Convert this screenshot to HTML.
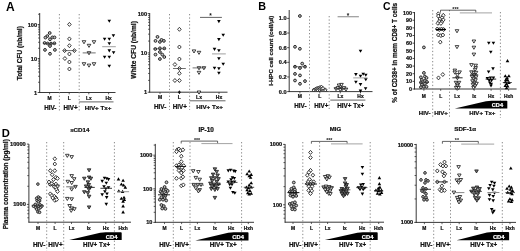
<!DOCTYPE html>
<html><head><meta charset="utf-8"><style>
html,body{margin:0;padding:0;background:#fff;}
body{width:520px;height:251px;overflow:hidden;}
svg{display:block;font-family:"Liberation Sans", sans-serif;filter:grayscale(1);}
</style></head><body>
<svg width="520" height="251" viewBox="0 0 520 251">
<rect width="520" height="251" fill="#fff"/>
<text x="6" y="10.9" font-size="12" font-weight="bold" fill="#000">A</text>
<line x1="39.70" y1="13.00" x2="39.70" y2="92.90" stroke="#222" stroke-width="0.9"/>
<line x1="37.70" y1="92.50" x2="39.70" y2="92.50" stroke="#222" stroke-width="0.8"/>
<text x="37.10" y="94.52" font-size="5.6" font-weight="bold" text-anchor="end" fill="#111" stroke="#111" stroke-width="0.22">1</text>
<line x1="37.70" y1="58.50" x2="39.70" y2="58.50" stroke="#222" stroke-width="0.8"/>
<text x="37.10" y="60.52" font-size="5.6" font-weight="bold" text-anchor="end" fill="#111" stroke="#111" stroke-width="0.22">10</text>
<line x1="37.70" y1="24.50" x2="39.70" y2="24.50" stroke="#222" stroke-width="0.8"/>
<text x="37.10" y="26.52" font-size="5.6" font-weight="bold" text-anchor="end" fill="#111" stroke="#111" stroke-width="0.22">100</text>
<line x1="38.10" y1="82.26" x2="39.70" y2="82.26" stroke="#222" stroke-width="0.75"/>
<line x1="38.10" y1="76.28" x2="39.70" y2="76.28" stroke="#222" stroke-width="0.75"/>
<line x1="38.10" y1="72.03" x2="39.70" y2="72.03" stroke="#222" stroke-width="0.75"/>
<line x1="38.10" y1="68.74" x2="39.70" y2="68.74" stroke="#222" stroke-width="0.75"/>
<line x1="38.10" y1="66.04" x2="39.70" y2="66.04" stroke="#222" stroke-width="0.75"/>
<line x1="38.10" y1="63.77" x2="39.70" y2="63.77" stroke="#222" stroke-width="0.75"/>
<line x1="38.10" y1="61.79" x2="39.70" y2="61.79" stroke="#222" stroke-width="0.75"/>
<line x1="38.10" y1="60.06" x2="39.70" y2="60.06" stroke="#222" stroke-width="0.75"/>
<line x1="38.10" y1="48.26" x2="39.70" y2="48.26" stroke="#222" stroke-width="0.75"/>
<line x1="38.10" y1="42.28" x2="39.70" y2="42.28" stroke="#222" stroke-width="0.75"/>
<line x1="38.10" y1="38.03" x2="39.70" y2="38.03" stroke="#222" stroke-width="0.75"/>
<line x1="38.10" y1="34.74" x2="39.70" y2="34.74" stroke="#222" stroke-width="0.75"/>
<line x1="38.10" y1="32.04" x2="39.70" y2="32.04" stroke="#222" stroke-width="0.75"/>
<line x1="38.10" y1="29.77" x2="39.70" y2="29.77" stroke="#222" stroke-width="0.75"/>
<line x1="38.10" y1="27.79" x2="39.70" y2="27.79" stroke="#222" stroke-width="0.75"/>
<line x1="38.10" y1="26.06" x2="39.70" y2="26.06" stroke="#222" stroke-width="0.75"/>
<line x1="38.10" y1="14.26" x2="39.70" y2="14.26" stroke="#222" stroke-width="0.75"/>
<line x1="39.30" y1="92.50" x2="115.50" y2="92.50" stroke="#222" stroke-width="0.9"/>
<line x1="49.60" y1="92.50" x2="49.60" y2="94.30" stroke="#222" stroke-width="0.7"/>
<line x1="69.20" y1="92.50" x2="69.20" y2="94.30" stroke="#222" stroke-width="0.7"/>
<line x1="88.80" y1="92.50" x2="88.80" y2="94.30" stroke="#222" stroke-width="0.7"/>
<line x1="108.60" y1="92.50" x2="108.60" y2="94.30" stroke="#222" stroke-width="0.7"/>
<text x="49.60" y="100.36" font-size="4.9" font-weight="bold" text-anchor="middle" fill="#111" stroke="#111" stroke-width="0.22">M</text>
<text x="69.20" y="100.36" font-size="4.9" font-weight="bold" text-anchor="middle" fill="#111" stroke="#111" stroke-width="0.22">L</text>
<text x="88.80" y="100.36" font-size="4.9" font-weight="bold" text-anchor="middle" fill="#111" stroke="#111" stroke-width="0.22">Lx</text>
<text x="108.60" y="100.36" font-size="4.9" font-weight="bold" text-anchor="middle" fill="#111" stroke="#111" stroke-width="0.22">Hx</text>
<line x1="59.40" y1="14.00" x2="59.40" y2="110.50" stroke="#8a8a8a" stroke-width="1.0" stroke-dasharray="1.3,2.1"/>
<line x1="79.20" y1="14.00" x2="79.20" y2="110.50" stroke="#8a8a8a" stroke-width="1.0" stroke-dasharray="1.3,2.1"/>
<line x1="79.20" y1="101.90" x2="113.50" y2="101.90" stroke="#222" stroke-width="0.7"/>
<text x="50.30" y="109.67" font-size="6.3" font-weight="bold" text-anchor="middle" fill="#111" stroke="#111" stroke-width="0.22">HIV-</text>
<text x="70.50" y="109.67" font-size="6.3" font-weight="bold" text-anchor="middle" fill="#111" stroke="#111" stroke-width="0.22">HIV+</text>
<text x="98.00" y="109.65" font-size="6.25" font-weight="bold" text-anchor="middle" fill="#111" stroke="#111" stroke-width="0.22">HIV+ Tx+</text>
<text x="19.60" y="55.56" font-size="6.55" font-weight="bold" text-anchor="middle" fill="#111" stroke="#111" stroke-width="0.22" transform="rotate(-90 19.60 53.20)">Total CFU (nb/ml)</text>
<circle cx="49.70" cy="33.00" r="1.40" fill="#bdbdbd" stroke="#222" stroke-width="0.95"/>
<circle cx="47.30" cy="36.10" r="1.40" fill="#bdbdbd" stroke="#222" stroke-width="0.95"/>
<circle cx="45.40" cy="37.60" r="1.40" fill="#bdbdbd" stroke="#222" stroke-width="0.95"/>
<circle cx="52.40" cy="37.40" r="1.40" fill="#bdbdbd" stroke="#222" stroke-width="0.95"/>
<circle cx="54.50" cy="37.40" r="1.40" fill="#bdbdbd" stroke="#222" stroke-width="0.95"/>
<circle cx="50.00" cy="39.30" r="1.40" fill="#bdbdbd" stroke="#222" stroke-width="0.95"/>
<circle cx="44.60" cy="43.00" r="1.40" fill="#bdbdbd" stroke="#222" stroke-width="0.95"/>
<circle cx="47.60" cy="43.50" r="1.40" fill="#bdbdbd" stroke="#222" stroke-width="0.95"/>
<circle cx="51.00" cy="43.60" r="1.40" fill="#bdbdbd" stroke="#222" stroke-width="0.95"/>
<circle cx="54.40" cy="43.30" r="1.40" fill="#bdbdbd" stroke="#222" stroke-width="0.95"/>
<circle cx="50.00" cy="46.00" r="1.40" fill="#bdbdbd" stroke="#222" stroke-width="0.95"/>
<circle cx="45.00" cy="49.90" r="1.40" fill="#bdbdbd" stroke="#222" stroke-width="0.95"/>
<circle cx="54.90" cy="49.90" r="1.40" fill="#bdbdbd" stroke="#222" stroke-width="0.95"/>
<circle cx="50.00" cy="53.80" r="1.40" fill="#bdbdbd" stroke="#222" stroke-width="0.95"/>
<line x1="43.60" y1="43.50" x2="56.00" y2="43.50" stroke="#333" stroke-width="0.7"/>
<polygon points="69.40,22.40 71.20,24.40 69.40,26.40 67.60,24.40" fill="#fff" stroke="#1a1a1a" stroke-width="0.85"/>
<polygon points="69.40,36.90 71.20,38.90 69.40,40.90 67.60,38.90" fill="#fff" stroke="#1a1a1a" stroke-width="0.85"/>
<polygon points="69.40,43.70 71.20,45.70 69.40,47.70 67.60,45.70" fill="#fff" stroke="#1a1a1a" stroke-width="0.85"/>
<polygon points="64.60,48.60 66.40,50.60 64.60,52.60 62.80,50.60" fill="#fff" stroke="#1a1a1a" stroke-width="0.85"/>
<polygon points="74.40,48.60 76.20,50.60 74.40,52.60 72.60,50.60" fill="#fff" stroke="#1a1a1a" stroke-width="0.85"/>
<polygon points="69.40,52.00 71.20,54.00 69.40,56.00 67.60,54.00" fill="#fff" stroke="#1a1a1a" stroke-width="0.85"/>
<polygon points="64.90,56.50 66.70,58.50 64.90,60.50 63.10,58.50" fill="#fff" stroke="#1a1a1a" stroke-width="0.85"/>
<polygon points="69.40,60.00 71.20,62.00 69.40,64.00 67.60,62.00" fill="#fff" stroke="#1a1a1a" stroke-width="0.85"/>
<polygon points="69.40,67.00 71.20,69.00 69.40,71.00 67.60,69.00" fill="#fff" stroke="#1a1a1a" stroke-width="0.85"/>
<line x1="63.20" y1="50.60" x2="75.60" y2="50.60" stroke="#333" stroke-width="0.7"/>
<polygon points="82.20,40.70 85.80,40.70 84.00,43.80" fill="#fff" stroke="#111" stroke-width="0.8"/>
<polygon points="87.20,44.30 90.80,44.30 89.00,47.40" fill="#fff" stroke="#111" stroke-width="0.8"/>
<polygon points="92.20,40.70 95.80,40.70 94.00,43.80" fill="#fff" stroke="#111" stroke-width="0.8"/>
<polygon points="87.20,51.70 90.80,51.70 89.00,54.80" fill="#fff" stroke="#111" stroke-width="0.8"/>
<polygon points="82.20,62.70 85.80,62.70 84.00,65.80" fill="#fff" stroke="#111" stroke-width="0.8"/>
<polygon points="87.20,64.10 90.80,64.10 89.00,67.20" fill="#fff" stroke="#111" stroke-width="0.8"/>
<polygon points="92.20,62.70 95.80,62.70 94.00,65.80" fill="#fff" stroke="#111" stroke-width="0.8"/>
<line x1="82.70" y1="52.90" x2="95.70" y2="52.90" stroke="#333" stroke-width="0.7"/>
<polygon points="107.50,19.75 111.10,19.75 109.30,22.85" fill="#000" stroke="none" stroke-width="0"/>
<polygon points="111.60,34.25 115.20,34.25 113.40,37.35" fill="#000" stroke="none" stroke-width="0"/>
<polygon points="102.80,37.65 106.40,37.65 104.60,40.75" fill="#000" stroke="none" stroke-width="0"/>
<polygon points="107.50,37.65 111.10,37.65 109.30,40.75" fill="#000" stroke="none" stroke-width="0"/>
<polygon points="107.50,42.25 111.10,42.25 109.30,45.35" fill="#000" stroke="none" stroke-width="0"/>
<polygon points="107.50,49.35 111.10,49.35 109.30,52.45" fill="#000" stroke="none" stroke-width="0"/>
<polygon points="111.80,51.15 115.40,51.15 113.60,54.25" fill="#000" stroke="none" stroke-width="0"/>
<polygon points="102.80,55.75 106.40,55.75 104.60,58.85" fill="#000" stroke="none" stroke-width="0"/>
<polygon points="107.50,55.75 111.10,55.75 109.30,58.85" fill="#000" stroke="none" stroke-width="0"/>
<polygon points="107.50,64.65 111.10,64.65 109.30,67.75" fill="#000" stroke="none" stroke-width="0"/>
<line x1="102.20" y1="46.70" x2="115.80" y2="46.70" stroke="#777" stroke-width="0.7"/>
<line x1="149.70" y1="13.00" x2="149.70" y2="92.60" stroke="#222" stroke-width="0.9"/>
<line x1="147.70" y1="92.20" x2="149.70" y2="92.20" stroke="#222" stroke-width="0.8"/>
<text x="147.10" y="94.22" font-size="5.6" font-weight="bold" text-anchor="end" fill="#111" stroke="#111" stroke-width="0.22">1</text>
<line x1="147.70" y1="52.90" x2="149.70" y2="52.90" stroke="#222" stroke-width="0.8"/>
<text x="147.10" y="54.92" font-size="5.6" font-weight="bold" text-anchor="end" fill="#111" stroke="#111" stroke-width="0.22">10</text>
<line x1="147.70" y1="13.60" x2="149.70" y2="13.60" stroke="#222" stroke-width="0.8"/>
<text x="147.10" y="15.62" font-size="5.6" font-weight="bold" text-anchor="end" fill="#111" stroke="#111" stroke-width="0.22">100</text>
<line x1="148.10" y1="80.37" x2="149.70" y2="80.37" stroke="#222" stroke-width="0.75"/>
<line x1="148.10" y1="73.45" x2="149.70" y2="73.45" stroke="#222" stroke-width="0.75"/>
<line x1="148.10" y1="68.54" x2="149.70" y2="68.54" stroke="#222" stroke-width="0.75"/>
<line x1="148.10" y1="64.73" x2="149.70" y2="64.73" stroke="#222" stroke-width="0.75"/>
<line x1="148.10" y1="61.62" x2="149.70" y2="61.62" stroke="#222" stroke-width="0.75"/>
<line x1="148.10" y1="58.99" x2="149.70" y2="58.99" stroke="#222" stroke-width="0.75"/>
<line x1="148.10" y1="56.71" x2="149.70" y2="56.71" stroke="#222" stroke-width="0.75"/>
<line x1="148.10" y1="54.70" x2="149.70" y2="54.70" stroke="#222" stroke-width="0.75"/>
<line x1="148.10" y1="41.07" x2="149.70" y2="41.07" stroke="#222" stroke-width="0.75"/>
<line x1="148.10" y1="34.15" x2="149.70" y2="34.15" stroke="#222" stroke-width="0.75"/>
<line x1="148.10" y1="29.24" x2="149.70" y2="29.24" stroke="#222" stroke-width="0.75"/>
<line x1="148.10" y1="25.43" x2="149.70" y2="25.43" stroke="#222" stroke-width="0.75"/>
<line x1="148.10" y1="22.32" x2="149.70" y2="22.32" stroke="#222" stroke-width="0.75"/>
<line x1="148.10" y1="19.69" x2="149.70" y2="19.69" stroke="#222" stroke-width="0.75"/>
<line x1="148.10" y1="17.41" x2="149.70" y2="17.41" stroke="#222" stroke-width="0.75"/>
<line x1="148.10" y1="15.40" x2="149.70" y2="15.40" stroke="#222" stroke-width="0.75"/>
<line x1="149.30" y1="92.20" x2="227.50" y2="92.20" stroke="#222" stroke-width="0.9"/>
<line x1="160.00" y1="92.20" x2="160.00" y2="94.00" stroke="#222" stroke-width="0.7"/>
<line x1="179.40" y1="92.20" x2="179.40" y2="94.00" stroke="#222" stroke-width="0.7"/>
<line x1="199.00" y1="92.20" x2="199.00" y2="94.00" stroke="#222" stroke-width="0.7"/>
<line x1="219.00" y1="92.20" x2="219.00" y2="94.00" stroke="#222" stroke-width="0.7"/>
<text x="160.00" y="98.50" font-size="5.0" font-weight="bold" text-anchor="middle" fill="#111" stroke="#111" stroke-width="0.22">M</text>
<text x="179.40" y="98.50" font-size="5.0" font-weight="bold" text-anchor="middle" fill="#111" stroke="#111" stroke-width="0.22">L</text>
<text x="199.00" y="98.50" font-size="5.0" font-weight="bold" text-anchor="middle" fill="#111" stroke="#111" stroke-width="0.22">Lx</text>
<text x="219.00" y="98.50" font-size="5.0" font-weight="bold" text-anchor="middle" fill="#111" stroke="#111" stroke-width="0.22">Hx</text>
<line x1="169.50" y1="14.00" x2="169.50" y2="110.00" stroke="#8a8a8a" stroke-width="1.0" stroke-dasharray="1.3,2.1"/>
<line x1="189.60" y1="14.00" x2="189.60" y2="110.00" stroke="#8a8a8a" stroke-width="1.0" stroke-dasharray="1.3,2.1"/>
<line x1="189.60" y1="100.80" x2="225.50" y2="100.80" stroke="#222" stroke-width="0.7"/>
<text x="160.20" y="108.57" font-size="6.3" font-weight="bold" text-anchor="middle" fill="#111" stroke="#111" stroke-width="0.22">HIV-</text>
<text x="179.80" y="108.57" font-size="6.3" font-weight="bold" text-anchor="middle" fill="#111" stroke="#111" stroke-width="0.22">HIV+</text>
<text x="209.50" y="108.55" font-size="6.25" font-weight="bold" text-anchor="middle" fill="#111" stroke="#111" stroke-width="0.22">HIV+ Tx+</text>
<text x="133.30" y="52.24" font-size="6.65" font-weight="bold" text-anchor="middle" fill="#111" stroke="#111" stroke-width="0.22" transform="rotate(-90 133.30 49.85)">White CFU (nb/ml)</text>
<line x1="200.00" y1="17.40" x2="221.90" y2="17.40" stroke="#555" stroke-width="0.9"/>
<text x="210.60" y="18.34" font-size="6.5" font-weight="bold" text-anchor="middle" fill="#111">*</text>
<circle cx="157.50" cy="36.90" r="1.40" fill="#bdbdbd" stroke="#222" stroke-width="0.95"/>
<circle cx="155.50" cy="40.90" r="1.40" fill="#bdbdbd" stroke="#222" stroke-width="0.95"/>
<circle cx="159.90" cy="41.90" r="1.40" fill="#bdbdbd" stroke="#222" stroke-width="0.95"/>
<circle cx="161.50" cy="39.90" r="1.40" fill="#bdbdbd" stroke="#222" stroke-width="0.95"/>
<circle cx="163.90" cy="40.90" r="1.40" fill="#bdbdbd" stroke="#222" stroke-width="0.95"/>
<circle cx="155.30" cy="49.00" r="1.40" fill="#bdbdbd" stroke="#222" stroke-width="0.95"/>
<circle cx="159.90" cy="48.30" r="1.40" fill="#bdbdbd" stroke="#222" stroke-width="0.95"/>
<circle cx="164.30" cy="48.40" r="1.40" fill="#bdbdbd" stroke="#222" stroke-width="0.95"/>
<circle cx="159.90" cy="52.00" r="1.40" fill="#bdbdbd" stroke="#222" stroke-width="0.95"/>
<circle cx="155.50" cy="54.60" r="1.40" fill="#bdbdbd" stroke="#222" stroke-width="0.95"/>
<circle cx="162.30" cy="54.60" r="1.40" fill="#bdbdbd" stroke="#222" stroke-width="0.95"/>
<circle cx="164.30" cy="57.00" r="1.40" fill="#bdbdbd" stroke="#222" stroke-width="0.95"/>
<circle cx="159.90" cy="59.00" r="1.40" fill="#bdbdbd" stroke="#222" stroke-width="0.95"/>
<line x1="153.60" y1="48.80" x2="166.00" y2="48.80" stroke="#333" stroke-width="0.7"/>
<polygon points="179.40,27.30 181.20,29.30 179.40,31.30 177.60,29.30" fill="#fff" stroke="#1a1a1a" stroke-width="0.85"/>
<polygon points="179.40,45.00 181.20,47.00 179.40,49.00 177.60,47.00" fill="#fff" stroke="#1a1a1a" stroke-width="0.85"/>
<polygon points="179.40,57.00 181.20,59.00 179.40,61.00 177.60,59.00" fill="#fff" stroke="#1a1a1a" stroke-width="0.85"/>
<polygon points="174.90,62.50 176.70,64.50 174.90,66.50 173.10,64.50" fill="#fff" stroke="#1a1a1a" stroke-width="0.85"/>
<polygon points="179.40,66.50 181.20,68.50 179.40,70.50 177.60,68.50" fill="#fff" stroke="#1a1a1a" stroke-width="0.85"/>
<polygon points="179.40,71.30 181.20,73.30 179.40,75.30 177.60,73.30" fill="#fff" stroke="#1a1a1a" stroke-width="0.85"/>
<polygon points="174.90,78.50 176.70,80.50 174.90,82.50 173.10,80.50" fill="#fff" stroke="#1a1a1a" stroke-width="0.85"/>
<polygon points="179.40,78.50 181.20,80.50 179.40,82.50 177.60,80.50" fill="#fff" stroke="#1a1a1a" stroke-width="0.85"/>
<polygon points="179.40,90.30 180.90,92.20 179.40,94.10 177.90,92.20" fill="#111" stroke="none" stroke-width="0"/>
<line x1="173.00" y1="68.50" x2="185.80" y2="68.50" stroke="#333" stroke-width="0.7"/>
<polygon points="192.20,49.90 195.80,49.90 194.00,53.00" fill="#fff" stroke="#111" stroke-width="0.8"/>
<polygon points="197.20,51.30 200.80,51.30 199.00,54.40" fill="#fff" stroke="#111" stroke-width="0.8"/>
<polygon points="197.20,66.70 200.80,66.70 199.00,69.80" fill="#fff" stroke="#111" stroke-width="0.8"/>
<polygon points="202.10,66.70 205.70,66.70 203.90,69.80" fill="#fff" stroke="#111" stroke-width="0.8"/>
<polygon points="197.20,71.30 200.80,71.30 199.00,74.40" fill="#fff" stroke="#111" stroke-width="0.8"/>
<polygon points="197.20,91.00 200.80,91.00 199.00,94.10" fill="#fff" stroke="#111" stroke-width="0.8"/>
<line x1="192.60" y1="67.90" x2="205.80" y2="67.90" stroke="#333" stroke-width="0.7"/>
<polygon points="217.10,20.05 220.70,20.05 218.90,23.15" fill="#000" stroke="none" stroke-width="0"/>
<polygon points="221.40,33.65 225.00,33.65 223.20,36.75" fill="#000" stroke="none" stroke-width="0"/>
<polygon points="217.10,38.05 220.70,38.05 218.90,41.15" fill="#000" stroke="none" stroke-width="0"/>
<polygon points="212.70,47.85 216.30,47.85 214.50,50.95" fill="#000" stroke="none" stroke-width="0"/>
<polygon points="217.10,49.15 220.70,49.15 218.90,52.25" fill="#000" stroke="none" stroke-width="0"/>
<polygon points="217.10,57.25 220.70,57.25 218.90,60.35" fill="#000" stroke="none" stroke-width="0"/>
<polygon points="221.40,62.65 225.00,62.65 223.20,65.75" fill="#000" stroke="none" stroke-width="0"/>
<polygon points="212.70,66.65 216.30,66.65 214.50,69.75" fill="#000" stroke="none" stroke-width="0"/>
<polygon points="217.10,67.25 220.70,67.25 218.90,70.35" fill="#000" stroke="none" stroke-width="0"/>
<polygon points="217.10,71.65 220.70,71.65 218.90,74.75" fill="#000" stroke="none" stroke-width="0"/>
<line x1="212.00" y1="53.90" x2="225.80" y2="53.90" stroke="#777" stroke-width="0.7"/>
<text x="258.3" y="10.0" font-size="10.8" font-weight="bold" fill="#000">B</text>
<line x1="289.20" y1="10.00" x2="289.20" y2="92.00" stroke="#222" stroke-width="0.9"/>
<line x1="287.20" y1="91.60" x2="289.20" y2="91.60" stroke="#222" stroke-width="0.8"/>
<text x="286.60" y="93.62" font-size="5.6" font-weight="bold" text-anchor="end" fill="#111" stroke="#111" stroke-width="0.22">0.0</text>
<line x1="287.20" y1="76.96" x2="289.20" y2="76.96" stroke="#222" stroke-width="0.8"/>
<text x="286.60" y="78.98" font-size="5.6" font-weight="bold" text-anchor="end" fill="#111" stroke="#111" stroke-width="0.22">0.2</text>
<line x1="287.20" y1="62.32" x2="289.20" y2="62.32" stroke="#222" stroke-width="0.8"/>
<text x="286.60" y="64.34" font-size="5.6" font-weight="bold" text-anchor="end" fill="#111" stroke="#111" stroke-width="0.22">0.4</text>
<line x1="287.20" y1="47.68" x2="289.20" y2="47.68" stroke="#222" stroke-width="0.8"/>
<text x="286.60" y="49.70" font-size="5.6" font-weight="bold" text-anchor="end" fill="#111" stroke="#111" stroke-width="0.22">0.6</text>
<line x1="287.20" y1="33.04" x2="289.20" y2="33.04" stroke="#222" stroke-width="0.8"/>
<text x="286.60" y="35.06" font-size="5.6" font-weight="bold" text-anchor="end" fill="#111" stroke="#111" stroke-width="0.22">0.8</text>
<line x1="287.20" y1="18.40" x2="289.20" y2="18.40" stroke="#222" stroke-width="0.8"/>
<text x="286.60" y="20.42" font-size="5.6" font-weight="bold" text-anchor="end" fill="#111" stroke="#111" stroke-width="0.22">1.0</text>
<line x1="288.80" y1="91.60" x2="372.50" y2="91.60" stroke="#222" stroke-width="0.9"/>
<line x1="299.90" y1="91.60" x2="299.90" y2="93.40" stroke="#222" stroke-width="0.7"/>
<line x1="319.80" y1="91.60" x2="319.80" y2="93.40" stroke="#222" stroke-width="0.7"/>
<line x1="340.30" y1="91.60" x2="340.30" y2="93.40" stroke="#222" stroke-width="0.7"/>
<line x1="360.50" y1="91.60" x2="360.50" y2="93.40" stroke="#222" stroke-width="0.7"/>
<text x="299.90" y="97.90" font-size="5.0" font-weight="bold" text-anchor="middle" fill="#111" stroke="#111" stroke-width="0.22">M</text>
<text x="319.80" y="97.90" font-size="5.0" font-weight="bold" text-anchor="middle" fill="#111" stroke="#111" stroke-width="0.22">L</text>
<text x="340.30" y="97.90" font-size="5.0" font-weight="bold" text-anchor="middle" fill="#111" stroke="#111" stroke-width="0.22">Lx</text>
<text x="360.50" y="97.90" font-size="5.0" font-weight="bold" text-anchor="middle" fill="#111" stroke="#111" stroke-width="0.22">Hx</text>
<line x1="309.50" y1="16.00" x2="309.50" y2="109.00" stroke="#8a8a8a" stroke-width="1.0" stroke-dasharray="1.3,2.1"/>
<line x1="329.20" y1="16.00" x2="329.20" y2="109.00" stroke="#8a8a8a" stroke-width="1.0" stroke-dasharray="1.3,2.1"/>
<line x1="330.30" y1="100.10" x2="365.40" y2="100.10" stroke="#222" stroke-width="0.7"/>
<text x="300.40" y="107.97" font-size="6.3" font-weight="bold" text-anchor="middle" fill="#111" stroke="#111" stroke-width="0.22">HIV-</text>
<text x="321.30" y="107.97" font-size="6.3" font-weight="bold" text-anchor="middle" fill="#111" stroke="#111" stroke-width="0.22">HIV+</text>
<text x="350.80" y="107.97" font-size="6.3" font-weight="bold" text-anchor="middle" fill="#111" stroke="#111" stroke-width="0.22">HIV+ Tx+</text>
<text x="270.80" y="53.01" font-size="6.15" font-weight="bold" text-anchor="middle" fill="#111" stroke="#111" stroke-width="0.22" transform="rotate(-90 270.80 50.80)">I-HPC cell count (cell/µl)</text>
<line x1="337.60" y1="16.75" x2="358.90" y2="16.75" stroke="#777" stroke-width="0.9"/>
<text x="348.10" y="17.74" font-size="6.5" font-weight="bold" text-anchor="middle" fill="#111">*</text>
<circle cx="299.90" cy="16.00" r="1.40" fill="#bdbdbd" stroke="#222" stroke-width="0.95"/>
<circle cx="295.00" cy="46.80" r="1.40" fill="#bdbdbd" stroke="#222" stroke-width="0.95"/>
<circle cx="299.90" cy="48.80" r="1.40" fill="#bdbdbd" stroke="#222" stroke-width="0.95"/>
<circle cx="295.00" cy="66.70" r="1.40" fill="#bdbdbd" stroke="#222" stroke-width="0.95"/>
<circle cx="300.00" cy="68.00" r="1.40" fill="#bdbdbd" stroke="#222" stroke-width="0.95"/>
<circle cx="302.20" cy="63.60" r="1.40" fill="#bdbdbd" stroke="#222" stroke-width="0.95"/>
<circle cx="305.00" cy="66.70" r="1.40" fill="#bdbdbd" stroke="#222" stroke-width="0.95"/>
<circle cx="295.00" cy="73.90" r="1.40" fill="#bdbdbd" stroke="#222" stroke-width="0.95"/>
<circle cx="300.00" cy="75.40" r="1.40" fill="#bdbdbd" stroke="#222" stroke-width="0.95"/>
<circle cx="295.00" cy="80.50" r="1.40" fill="#bdbdbd" stroke="#222" stroke-width="0.95"/>
<circle cx="305.00" cy="81.10" r="1.40" fill="#bdbdbd" stroke="#222" stroke-width="0.95"/>
<circle cx="300.00" cy="83.80" r="1.40" fill="#bdbdbd" stroke="#222" stroke-width="0.95"/>
<line x1="293.00" y1="66.70" x2="306.20" y2="66.70" stroke="#333" stroke-width="0.7"/>
<polygon points="313.80,88.00 315.60,90.00 313.80,92.00 312.00,90.00" fill="#fff" stroke="#1a1a1a" stroke-width="0.85"/>
<polygon points="315.50,87.20 317.30,89.20 315.50,91.20 313.70,89.20" fill="#fff" stroke="#1a1a1a" stroke-width="0.85"/>
<polygon points="317.00,86.50 318.80,88.50 317.00,90.50 315.20,88.50" fill="#fff" stroke="#1a1a1a" stroke-width="0.85"/>
<polygon points="318.50,86.00 320.30,88.00 318.50,90.00 316.70,88.00" fill="#fff" stroke="#1a1a1a" stroke-width="0.85"/>
<polygon points="320.00,85.50 321.80,87.50 320.00,89.50 318.20,87.50" fill="#fff" stroke="#1a1a1a" stroke-width="0.85"/>
<polygon points="321.50,85.20 323.30,87.20 321.50,89.20 319.70,87.20" fill="#fff" stroke="#1a1a1a" stroke-width="0.85"/>
<polygon points="317.50,87.80 319.30,89.80 317.50,91.80 315.70,89.80" fill="#fff" stroke="#1a1a1a" stroke-width="0.85"/>
<polygon points="319.50,87.50 321.30,89.50 319.50,91.50 317.70,89.50" fill="#fff" stroke="#1a1a1a" stroke-width="0.85"/>
<polygon points="321.50,87.00 323.30,89.00 321.50,91.00 319.70,89.00" fill="#fff" stroke="#1a1a1a" stroke-width="0.85"/>
<polygon points="323.00,86.50 324.80,88.50 323.00,90.50 321.20,88.50" fill="#fff" stroke="#1a1a1a" stroke-width="0.85"/>
<polygon points="325.30,87.90 327.10,89.90 325.30,91.90 323.50,89.90" fill="#fff" stroke="#1a1a1a" stroke-width="0.85"/>
<line x1="313.40" y1="89.30" x2="326.20" y2="89.30" stroke="#333" stroke-width="0.7"/>
<polygon points="334.20,87.60 337.80,87.60 336.00,90.70" fill="#fff" stroke="#111" stroke-width="0.8"/>
<polygon points="336.20,86.60 339.80,86.60 338.00,89.70" fill="#fff" stroke="#111" stroke-width="0.8"/>
<polygon points="338.20,85.70 341.80,85.70 340.00,88.80" fill="#fff" stroke="#111" stroke-width="0.8"/>
<polygon points="340.20,87.60 343.80,87.60 342.00,90.70" fill="#fff" stroke="#111" stroke-width="0.8"/>
<polygon points="342.20,86.60 345.80,86.60 344.00,89.70" fill="#fff" stroke="#111" stroke-width="0.8"/>
<polygon points="344.20,88.10 347.80,88.10 346.00,91.20" fill="#fff" stroke="#111" stroke-width="0.8"/>
<polygon points="337.20,84.00 340.80,84.00 339.00,87.10" fill="#fff" stroke="#111" stroke-width="0.8"/>
<polygon points="339.70,83.40 343.30,83.40 341.50,86.50" fill="#fff" stroke="#111" stroke-width="0.8"/>
<polygon points="338.50,88.40 342.10,88.40 340.30,91.50" fill="#fff" stroke="#111" stroke-width="0.8"/>
<line x1="333.90" y1="88.60" x2="346.70" y2="88.60" stroke="#333" stroke-width="0.7"/>
<polygon points="358.70,49.75 362.30,49.75 360.50,52.85" fill="#000" stroke="none" stroke-width="0"/>
<polygon points="354.10,73.05 357.70,73.05 355.90,76.15" fill="#000" stroke="none" stroke-width="0"/>
<polygon points="358.70,74.65 362.30,74.65 360.50,77.75" fill="#000" stroke="none" stroke-width="0"/>
<polygon points="361.40,72.65 365.00,72.65 363.20,75.75" fill="#000" stroke="none" stroke-width="0"/>
<polygon points="364.00,73.65 367.60,73.65 365.80,76.75" fill="#000" stroke="none" stroke-width="0"/>
<polygon points="354.10,80.75 357.70,80.75 355.90,83.85" fill="#000" stroke="none" stroke-width="0"/>
<polygon points="358.70,83.05 362.30,83.05 360.50,86.15" fill="#000" stroke="none" stroke-width="0"/>
<polygon points="364.00,78.25 367.60,78.25 365.80,81.35" fill="#000" stroke="none" stroke-width="0"/>
<polygon points="363.80,87.25 367.40,87.25 365.60,90.35" fill="#000" stroke="none" stroke-width="0"/>
<polygon points="358.70,89.55 362.30,89.55 360.50,92.65" fill="#000" stroke="none" stroke-width="0"/>
<line x1="353.20" y1="77.90" x2="367.60" y2="77.90" stroke="#777" stroke-width="0.7"/>
<text x="383.0" y="10.3" font-size="10.4" font-weight="bold" fill="#000">C</text>
<line x1="414.50" y1="12.00" x2="414.50" y2="89.40" stroke="#222" stroke-width="0.9"/>
<line x1="412.50" y1="89.00" x2="414.50" y2="89.00" stroke="#222" stroke-width="0.8"/>
<text x="411.90" y="90.94" font-size="5.4" font-weight="bold" text-anchor="end" fill="#111" stroke="#111" stroke-width="0.22">0</text>
<line x1="412.50" y1="81.36" x2="414.50" y2="81.36" stroke="#222" stroke-width="0.8"/>
<text x="411.90" y="83.30" font-size="5.4" font-weight="bold" text-anchor="end" fill="#111" stroke="#111" stroke-width="0.22">10</text>
<line x1="412.50" y1="73.72" x2="414.50" y2="73.72" stroke="#222" stroke-width="0.8"/>
<text x="411.90" y="75.66" font-size="5.4" font-weight="bold" text-anchor="end" fill="#111" stroke="#111" stroke-width="0.22">20</text>
<line x1="412.50" y1="66.08" x2="414.50" y2="66.08" stroke="#222" stroke-width="0.8"/>
<text x="411.90" y="68.02" font-size="5.4" font-weight="bold" text-anchor="end" fill="#111" stroke="#111" stroke-width="0.22">30</text>
<line x1="412.50" y1="58.44" x2="414.50" y2="58.44" stroke="#222" stroke-width="0.8"/>
<text x="411.90" y="60.38" font-size="5.4" font-weight="bold" text-anchor="end" fill="#111" stroke="#111" stroke-width="0.22">40</text>
<line x1="412.50" y1="50.80" x2="414.50" y2="50.80" stroke="#222" stroke-width="0.8"/>
<text x="411.90" y="52.74" font-size="5.4" font-weight="bold" text-anchor="end" fill="#111" stroke="#111" stroke-width="0.22">50</text>
<line x1="412.50" y1="43.16" x2="414.50" y2="43.16" stroke="#222" stroke-width="0.8"/>
<text x="411.90" y="45.10" font-size="5.4" font-weight="bold" text-anchor="end" fill="#111" stroke="#111" stroke-width="0.22">60</text>
<line x1="412.50" y1="35.52" x2="414.50" y2="35.52" stroke="#222" stroke-width="0.8"/>
<text x="411.90" y="37.46" font-size="5.4" font-weight="bold" text-anchor="end" fill="#111" stroke="#111" stroke-width="0.22">70</text>
<line x1="412.50" y1="27.88" x2="414.50" y2="27.88" stroke="#222" stroke-width="0.8"/>
<text x="411.90" y="29.82" font-size="5.4" font-weight="bold" text-anchor="end" fill="#111" stroke="#111" stroke-width="0.22">80</text>
<line x1="412.50" y1="20.24" x2="414.50" y2="20.24" stroke="#222" stroke-width="0.8"/>
<text x="411.90" y="22.18" font-size="5.4" font-weight="bold" text-anchor="end" fill="#111" stroke="#111" stroke-width="0.22">90</text>
<line x1="412.50" y1="12.60" x2="414.50" y2="12.60" stroke="#222" stroke-width="0.8"/>
<text x="411.90" y="14.54" font-size="5.4" font-weight="bold" text-anchor="end" fill="#111" stroke="#111" stroke-width="0.22">100</text>
<line x1="414.10" y1="89.00" x2="516.60" y2="89.00" stroke="#222" stroke-width="0.9"/>
<line x1="423.90" y1="89.00" x2="423.90" y2="90.80" stroke="#222" stroke-width="0.7"/>
<line x1="440.70" y1="89.00" x2="440.70" y2="90.80" stroke="#222" stroke-width="0.7"/>
<line x1="457.20" y1="89.00" x2="457.20" y2="90.80" stroke="#222" stroke-width="0.7"/>
<line x1="474.20" y1="89.00" x2="474.20" y2="90.80" stroke="#222" stroke-width="0.7"/>
<line x1="491.10" y1="89.00" x2="491.10" y2="90.80" stroke="#222" stroke-width="0.7"/>
<line x1="508.60" y1="89.00" x2="508.60" y2="90.80" stroke="#222" stroke-width="0.7"/>
<text x="423.90" y="98.06" font-size="4.9" font-weight="bold" text-anchor="middle" fill="#111" stroke="#111" stroke-width="0.22">M</text>
<text x="440.70" y="98.06" font-size="4.9" font-weight="bold" text-anchor="middle" fill="#111" stroke="#111" stroke-width="0.22">L</text>
<text x="457.20" y="98.06" font-size="4.9" font-weight="bold" text-anchor="middle" fill="#111" stroke="#111" stroke-width="0.22">Lx</text>
<text x="474.20" y="98.06" font-size="4.9" font-weight="bold" text-anchor="middle" fill="#111" stroke="#111" stroke-width="0.22">Ix</text>
<text x="491.10" y="98.06" font-size="4.9" font-weight="bold" text-anchor="middle" fill="#111" stroke="#111" stroke-width="0.22">Hx</text>
<text x="508.60" y="98.06" font-size="4.9" font-weight="bold" text-anchor="middle" fill="#111" stroke="#111" stroke-width="0.22">Hxh</text>
<line x1="432.70" y1="10.00" x2="432.70" y2="117.00" stroke="#8a8a8a" stroke-width="1.0" stroke-dasharray="1.3,2.1"/>
<line x1="449.50" y1="10.00" x2="449.50" y2="117.00" stroke="#8a8a8a" stroke-width="1.0" stroke-dasharray="1.3,2.1"/>
<line x1="500.40" y1="12.00" x2="500.40" y2="118.00" stroke="#8a8a8a" stroke-width="1.0" stroke-dasharray="1.3,2.1"/>
<text x="424.70" y="115.20" font-size="6.1" font-weight="bold" text-anchor="middle" fill="#111" stroke="#111" stroke-width="0.22">HIV-</text>
<text x="441.00" y="115.20" font-size="6.1" font-weight="bold" text-anchor="middle" fill="#111" stroke="#111" stroke-width="0.22">HIV+</text>
<text x="482.30" y="115.20" font-size="6.1" font-weight="bold" text-anchor="middle" fill="#111" stroke="#111" stroke-width="0.22">HIV+ Tx+</text>
<text x="394.70" y="55.11" font-size="6.42" font-weight="bold" text-anchor="middle" fill="#111" stroke="#111" stroke-width="0.22" transform="rotate(-90 394.70 52.80)">% of CD38+ in mem CD8+ T cells</text>
<path d="M454.80,108.50 L486.00,101.35 Q489.00,100.80 491.50,100.80 L506.50,100.80 Q507.30,100.80 507.30,101.60 L507.30,108.50 Z" fill="#000"/>
<text x="497.40" y="106.62" font-size="5.6" font-weight="bold" text-anchor="middle" fill="#fff" stroke="#fff" stroke-width="0.22">CD4</text>
<line x1="440.50" y1="10.20" x2="475.80" y2="10.20" stroke="#222" stroke-width="0.7"/>
<line x1="440.50" y1="10.20" x2="440.50" y2="12.60" stroke="#222" stroke-width="0.7"/>
<line x1="475.80" y1="10.20" x2="475.80" y2="12.60" stroke="#222" stroke-width="0.7"/>
<text x="455.50" y="11.14" font-size="5.6" font-weight="bold" text-anchor="middle" fill="#111">***</text>
<line x1="459.80" y1="12.90" x2="492.00" y2="12.90" stroke="#999" stroke-width="0.9"/>
<circle cx="423.90" cy="47.40" r="1.40" fill="#bdbdbd" stroke="#222" stroke-width="0.95"/>
<circle cx="423.90" cy="72.90" r="1.40" fill="#bdbdbd" stroke="#222" stroke-width="0.95"/>
<circle cx="420.90" cy="77.30" r="1.40" fill="#bdbdbd" stroke="#222" stroke-width="0.95"/>
<circle cx="424.90" cy="76.50" r="1.40" fill="#bdbdbd" stroke="#222" stroke-width="0.95"/>
<circle cx="426.50" cy="77.90" r="1.40" fill="#bdbdbd" stroke="#222" stroke-width="0.95"/>
<circle cx="421.90" cy="79.90" r="1.40" fill="#bdbdbd" stroke="#222" stroke-width="0.95"/>
<circle cx="424.90" cy="80.90" r="1.40" fill="#bdbdbd" stroke="#222" stroke-width="0.95"/>
<circle cx="420.90" cy="82.50" r="1.40" fill="#bdbdbd" stroke="#222" stroke-width="0.95"/>
<circle cx="424.90" cy="83.80" r="1.40" fill="#bdbdbd" stroke="#222" stroke-width="0.95"/>
<circle cx="421.90" cy="84.80" r="1.40" fill="#bdbdbd" stroke="#222" stroke-width="0.95"/>
<circle cx="423.90" cy="86.80" r="1.40" fill="#bdbdbd" stroke="#222" stroke-width="0.95"/>
<circle cx="426.50" cy="86.80" r="1.40" fill="#bdbdbd" stroke="#222" stroke-width="0.95"/>
<circle cx="420.90" cy="87.20" r="1.40" fill="#bdbdbd" stroke="#222" stroke-width="0.95"/>
<circle cx="427.00" cy="82.00" r="1.40" fill="#bdbdbd" stroke="#222" stroke-width="0.95"/>
<line x1="419.00" y1="82.50" x2="429.00" y2="82.50" stroke="#333" stroke-width="0.7"/>
<polygon points="438.30,11.80 440.10,13.80 438.30,15.80 436.50,13.80" fill="#fff" stroke="#1a1a1a" stroke-width="0.85"/>
<polygon points="443.30,13.30 445.10,15.30 443.30,17.30 441.50,15.30" fill="#fff" stroke="#1a1a1a" stroke-width="0.85"/>
<polygon points="438.30,14.10 440.10,16.10 438.30,18.10 436.50,16.10" fill="#fff" stroke="#1a1a1a" stroke-width="0.85"/>
<polygon points="442.10,15.80 443.90,17.80 442.10,19.80 440.30,17.80" fill="#fff" stroke="#1a1a1a" stroke-width="0.85"/>
<polygon points="439.80,17.00 441.60,19.00 439.80,21.00 438.00,19.00" fill="#fff" stroke="#1a1a1a" stroke-width="0.85"/>
<polygon points="443.30,17.90 445.10,19.90 443.30,21.90 441.50,19.90" fill="#fff" stroke="#1a1a1a" stroke-width="0.85"/>
<polygon points="439.10,19.40 440.90,21.40 439.10,23.40 437.30,21.40" fill="#fff" stroke="#1a1a1a" stroke-width="0.85"/>
<polygon points="441.80,20.00 443.60,22.00 441.80,24.00 440.00,22.00" fill="#fff" stroke="#1a1a1a" stroke-width="0.85"/>
<polygon points="437.90,21.30 439.70,23.30 437.90,25.30 436.10,23.30" fill="#fff" stroke="#1a1a1a" stroke-width="0.85"/>
<polygon points="440.90,21.40 442.70,23.40 440.90,25.40 439.10,23.40" fill="#fff" stroke="#1a1a1a" stroke-width="0.85"/>
<polygon points="437.20,27.00 439.00,29.00 437.20,31.00 435.40,29.00" fill="#fff" stroke="#1a1a1a" stroke-width="0.85"/>
<polygon points="439.30,27.60 441.10,29.60 439.30,31.60 437.50,29.60" fill="#fff" stroke="#1a1a1a" stroke-width="0.85"/>
<polygon points="441.50,27.00 443.30,29.00 441.50,31.00 439.70,29.00" fill="#fff" stroke="#1a1a1a" stroke-width="0.85"/>
<polygon points="443.60,27.50 445.40,29.50 443.60,31.50 441.80,29.50" fill="#fff" stroke="#1a1a1a" stroke-width="0.85"/>
<polygon points="438.30,33.00 440.10,35.00 438.30,37.00 436.50,35.00" fill="#fff" stroke="#1a1a1a" stroke-width="0.85"/>
<polygon points="440.90,33.60 442.70,35.60 440.90,37.60 439.10,35.60" fill="#fff" stroke="#1a1a1a" stroke-width="0.85"/>
<polygon points="442.90,33.00 444.70,35.00 442.90,37.00 441.10,35.00" fill="#fff" stroke="#1a1a1a" stroke-width="0.85"/>
<polygon points="440.30,40.10 442.10,42.10 440.30,44.10 438.50,42.10" fill="#fff" stroke="#1a1a1a" stroke-width="0.85"/>
<polygon points="438.50,75.90 440.30,77.90 438.50,79.90 436.70,77.90" fill="#fff" stroke="#1a1a1a" stroke-width="0.85"/>
<polygon points="442.80,72.50 444.60,74.50 442.80,76.50 441.00,74.50" fill="#fff" stroke="#1a1a1a" stroke-width="0.85"/>
<line x1="436" y1="29.5" x2="446" y2="29.5" stroke="#000" stroke-width="1.3"/>
<polygon points="455.20,29.70 458.80,29.70 457.00,32.80" fill="#fff" stroke="#111" stroke-width="0.8"/>
<polygon points="455.20,45.60 458.80,45.60 457.00,48.70" fill="#fff" stroke="#111" stroke-width="0.8"/>
<polygon points="453.00,69.10 456.60,69.10 454.80,72.20" fill="#fff" stroke="#111" stroke-width="0.8"/>
<polygon points="453.00,71.10 456.60,71.10 454.80,74.20" fill="#fff" stroke="#111" stroke-width="0.8"/>
<polygon points="457.80,70.90 461.40,70.90 459.60,74.00" fill="#fff" stroke="#111" stroke-width="0.8"/>
<polygon points="455.60,73.60 459.20,73.60 457.40,76.70" fill="#fff" stroke="#111" stroke-width="0.8"/>
<polygon points="455.60,76.70 459.20,76.70 457.40,79.80" fill="#fff" stroke="#111" stroke-width="0.8"/>
<polygon points="454.20,81.30 457.80,81.30 456.00,84.40" fill="#fff" stroke="#111" stroke-width="0.8"/>
<polygon points="457.20,81.30 460.80,81.30 459.00,84.40" fill="#fff" stroke="#111" stroke-width="0.8"/>
<polygon points="455.60,83.10 459.20,83.10 457.40,86.20" fill="#fff" stroke="#111" stroke-width="0.8"/>
<polygon points="455.60,84.80 459.20,84.80 457.40,87.90" fill="#fff" stroke="#111" stroke-width="0.8"/>
<polygon points="454.40,86.40 458.00,86.40 456.20,89.50" fill="#fff" stroke="#111" stroke-width="0.8"/>
<polygon points="456.80,86.40 460.40,86.40 458.60,89.50" fill="#fff" stroke="#111" stroke-width="0.8"/>
<line x1="452.40" y1="77.80" x2="462.60" y2="77.80" stroke="#111" stroke-width="0.9"/>
<polygon points="472.10,40.00 475.70,40.00 473.90,43.10" fill="#fff" stroke="#111" stroke-width="0.8"/>
<polygon points="472.10,46.20 475.70,46.20 473.90,49.30" fill="#fff" stroke="#111" stroke-width="0.8"/>
<polygon points="472.10,53.10 475.70,53.10 473.90,56.20" fill="#fff" stroke="#111" stroke-width="0.8"/>
<polygon points="469.70,63.60 473.30,63.60 471.50,66.70" fill="#fff" stroke="#111" stroke-width="0.8"/>
<polygon points="473.90,64.20 477.50,64.20 475.70,67.30" fill="#fff" stroke="#111" stroke-width="0.8"/>
<polygon points="473.90,66.60 477.50,66.60 475.70,69.70" fill="#fff" stroke="#111" stroke-width="0.8"/>
<polygon points="473.30,68.30 476.90,68.30 475.10,71.40" fill="#fff" stroke="#111" stroke-width="0.8"/>
<polygon points="469.70,70.80 473.30,70.80 471.50,73.90" fill="#fff" stroke="#111" stroke-width="0.8"/>
<polygon points="472.10,71.30 475.70,71.30 473.90,74.40" fill="#fff" stroke="#111" stroke-width="0.8"/>
<polygon points="474.20,71.30 477.80,71.30 476.00,74.40" fill="#fff" stroke="#111" stroke-width="0.8"/>
<polygon points="472.20,73.70 475.80,73.70 474.00,76.80" fill="#fff" stroke="#111" stroke-width="0.8"/>
<polygon points="470.20,75.30 473.80,75.30 472.00,78.40" fill="#fff" stroke="#111" stroke-width="0.8"/>
<polygon points="474.20,75.80 477.80,75.80 476.00,78.90" fill="#fff" stroke="#111" stroke-width="0.8"/>
<polygon points="471.70,77.30 475.30,77.30 473.50,80.40" fill="#fff" stroke="#111" stroke-width="0.8"/>
<polygon points="473.70,78.80 477.30,78.80 475.50,81.90" fill="#fff" stroke="#111" stroke-width="0.8"/>
<polygon points="470.70,79.80 474.30,79.80 472.50,82.90" fill="#fff" stroke="#111" stroke-width="0.8"/>
<polygon points="472.70,81.30 476.30,81.30 474.50,84.40" fill="#fff" stroke="#111" stroke-width="0.8"/>
<polygon points="474.70,82.30 478.30,82.30 476.50,85.40" fill="#fff" stroke="#111" stroke-width="0.8"/>
<polygon points="471.20,83.30 474.80,83.30 473.00,86.40" fill="#fff" stroke="#111" stroke-width="0.8"/>
<polygon points="473.20,84.80 476.80,84.80 475.00,87.90" fill="#fff" stroke="#111" stroke-width="0.8"/>
<polygon points="471.70,86.30 475.30,86.30 473.50,89.40" fill="#fff" stroke="#111" stroke-width="0.8"/>
<line x1="470.20" y1="74.90" x2="478.20" y2="74.90" stroke="#111" stroke-width="0.9"/>
<polygon points="487.00,41.65 490.60,41.65 488.80,44.75" fill="#000" stroke="none" stroke-width="0"/>
<polygon points="491.60,41.65 495.20,41.65 493.40,44.75" fill="#000" stroke="none" stroke-width="0"/>
<polygon points="489.00,50.75 492.60,50.75 490.80,53.85" fill="#000" stroke="none" stroke-width="0"/>
<polygon points="491.20,67.35 494.80,67.35 493.00,70.45" fill="#000" stroke="none" stroke-width="0"/>
<polygon points="486.80,70.45 490.40,70.45 488.60,73.55" fill="#000" stroke="none" stroke-width="0"/>
<polygon points="485.60,77.05 489.20,77.05 487.40,80.15" fill="#000" stroke="none" stroke-width="0"/>
<polygon points="488.60,76.45 492.20,76.45 490.40,79.55" fill="#000" stroke="none" stroke-width="0"/>
<polygon points="491.60,76.45 495.20,76.45 493.40,79.55" fill="#000" stroke="none" stroke-width="0"/>
<polygon points="487.40,79.05 491.00,79.05 489.20,82.15" fill="#000" stroke="none" stroke-width="0"/>
<polygon points="489.80,79.05 493.40,79.05 491.60,82.15" fill="#000" stroke="none" stroke-width="0"/>
<polygon points="488.00,81.45 491.60,81.45 489.80,84.55" fill="#000" stroke="none" stroke-width="0"/>
<polygon points="489.40,82.65 493.00,82.65 491.20,85.75" fill="#000" stroke="none" stroke-width="0"/>
<polygon points="489.20,84.45 492.80,84.45 491.00,87.55" fill="#000" stroke="none" stroke-width="0"/>
<line x1="485.60" y1="79.10" x2="496.20" y2="79.10" stroke="#111" stroke-width="0.9"/>
<polygon points="505.70,62.15 509.30,62.15 507.50,59.05" fill="#000" stroke="none" stroke-width="0"/>
<polygon points="503.50,77.35 507.10,77.35 505.30,74.25" fill="#000" stroke="none" stroke-width="0"/>
<polygon points="507.10,77.35 510.70,77.35 508.90,74.25" fill="#000" stroke="none" stroke-width="0"/>
<polygon points="505.30,79.15 508.90,79.15 507.10,76.05" fill="#000" stroke="none" stroke-width="0"/>
<polygon points="504.10,80.95 507.70,80.95 505.90,77.85" fill="#000" stroke="none" stroke-width="0"/>
<polygon points="505.90,81.55 509.50,81.55 507.70,78.45" fill="#000" stroke="none" stroke-width="0"/>
<polygon points="503.50,83.35 507.10,83.35 505.30,80.25" fill="#000" stroke="none" stroke-width="0"/>
<polygon points="507.10,83.95 510.70,83.95 508.90,80.85" fill="#000" stroke="none" stroke-width="0"/>
<polygon points="504.70,85.15 508.30,85.15 506.50,82.05" fill="#000" stroke="none" stroke-width="0"/>
<polygon points="503.50,86.95 507.10,86.95 505.30,83.85" fill="#000" stroke="none" stroke-width="0"/>
<polygon points="505.90,87.55 509.50,87.55 507.70,84.45" fill="#000" stroke="none" stroke-width="0"/>
<polygon points="504.70,89.35 508.30,89.35 506.50,86.25" fill="#000" stroke="none" stroke-width="0"/>
<line x1="502.80" y1="82.50" x2="511.80" y2="82.50" stroke="#111" stroke-width="0.8"/>
<text x="1.8" y="136.6" font-size="11.2" font-weight="bold" fill="#000">D</text>
<text x="5.30" y="186.62" font-size="6.45" font-weight="bold" text-anchor="middle" fill="#111" stroke="#111" stroke-width="0.22" transform="rotate(-90 5.30 184.30)">Plasma concentration (pg/ml)</text>
<line x1="28.90" y1="144.10" x2="28.90" y2="222.60" stroke="#222" stroke-width="0.9"/>
<line x1="26.90" y1="204.40" x2="28.90" y2="204.40" stroke="#222" stroke-width="0.8"/>
<text x="25.80" y="206.45" font-size="5.7" font-weight="bold" text-anchor="end" fill="#111" stroke="#111" stroke-width="0.22">1000</text>
<line x1="26.90" y1="144.10" x2="28.90" y2="144.10" stroke="#222" stroke-width="0.8"/>
<text x="25.80" y="146.15" font-size="5.7" font-weight="bold" text-anchor="end" fill="#111" stroke="#111" stroke-width="0.22">10000</text>
<line x1="27.30" y1="217.78" x2="28.90" y2="217.78" stroke="#222" stroke-width="0.75"/>
<line x1="27.30" y1="213.74" x2="28.90" y2="213.74" stroke="#222" stroke-width="0.75"/>
<line x1="27.30" y1="210.24" x2="28.90" y2="210.24" stroke="#222" stroke-width="0.75"/>
<line x1="27.30" y1="207.16" x2="28.90" y2="207.16" stroke="#222" stroke-width="0.75"/>
<line x1="27.30" y1="186.25" x2="28.90" y2="186.25" stroke="#222" stroke-width="0.75"/>
<line x1="27.30" y1="175.63" x2="28.90" y2="175.63" stroke="#222" stroke-width="0.75"/>
<line x1="27.30" y1="168.10" x2="28.90" y2="168.10" stroke="#222" stroke-width="0.75"/>
<line x1="27.30" y1="162.25" x2="28.90" y2="162.25" stroke="#222" stroke-width="0.75"/>
<line x1="27.30" y1="157.48" x2="28.90" y2="157.48" stroke="#222" stroke-width="0.75"/>
<line x1="27.30" y1="153.44" x2="28.90" y2="153.44" stroke="#222" stroke-width="0.75"/>
<line x1="27.30" y1="149.94" x2="28.90" y2="149.94" stroke="#222" stroke-width="0.75"/>
<line x1="27.30" y1="146.86" x2="28.90" y2="146.86" stroke="#222" stroke-width="0.75"/>
<line x1="28.50" y1="222.20" x2="131.00" y2="222.20" stroke="#222" stroke-width="0.9"/>
<line x1="38.00" y1="222.20" x2="38.00" y2="224.00" stroke="#222" stroke-width="0.7"/>
<line x1="55.10" y1="222.20" x2="55.10" y2="224.00" stroke="#222" stroke-width="0.7"/>
<line x1="71.50" y1="222.20" x2="71.50" y2="224.00" stroke="#222" stroke-width="0.7"/>
<line x1="88.80" y1="222.20" x2="88.80" y2="224.00" stroke="#222" stroke-width="0.7"/>
<line x1="105.80" y1="222.20" x2="105.80" y2="224.00" stroke="#222" stroke-width="0.7"/>
<line x1="123.00" y1="222.20" x2="123.00" y2="224.00" stroke="#222" stroke-width="0.7"/>
<text x="38.00" y="229.56" font-size="4.9" font-weight="bold" text-anchor="middle" fill="#111" stroke="#111" stroke-width="0.22">M</text>
<text x="55.10" y="229.56" font-size="4.9" font-weight="bold" text-anchor="middle" fill="#111" stroke="#111" stroke-width="0.22">L</text>
<text x="71.50" y="229.56" font-size="4.9" font-weight="bold" text-anchor="middle" fill="#111" stroke="#111" stroke-width="0.22">Lx</text>
<text x="88.80" y="229.56" font-size="4.9" font-weight="bold" text-anchor="middle" fill="#111" stroke="#111" stroke-width="0.22">Ix</text>
<text x="105.80" y="229.56" font-size="4.9" font-weight="bold" text-anchor="middle" fill="#111" stroke="#111" stroke-width="0.22">Hx</text>
<text x="123.00" y="229.56" font-size="4.9" font-weight="bold" text-anchor="middle" fill="#111" stroke="#111" stroke-width="0.22">Hxh</text>
<line x1="46.70" y1="142.00" x2="46.70" y2="251.00" stroke="#8a8a8a" stroke-width="1.0" stroke-dasharray="1.3,2.1"/>
<line x1="63.70" y1="142.00" x2="63.70" y2="251.00" stroke="#8a8a8a" stroke-width="1.0" stroke-dasharray="1.3,2.1"/>
<line x1="114.40" y1="142.00" x2="114.40" y2="251.00" stroke="#8a8a8a" stroke-width="1.0" stroke-dasharray="1.3,2.1"/>
<path d="M69.20,240.00 L100.20,232.85 Q103.20,232.30 105.70,232.30 L120.90,232.30 Q121.70,232.30 121.70,233.10 L121.70,240.00 Z" fill="#000"/>
<text x="111.60" y="238.67" font-size="5.75" font-weight="bold" text-anchor="middle" fill="#fff" stroke="#fff" stroke-width="0.22">CD4</text>
<text x="39.20" y="247.19" font-size="6.35" font-weight="bold" text-anchor="middle" fill="#111" stroke="#111" stroke-width="0.22">HIV-</text>
<text x="55.50" y="247.19" font-size="6.35" font-weight="bold" text-anchor="middle" fill="#111" stroke="#111" stroke-width="0.22">HIV+</text>
<text x="96.60" y="247.17" font-size="6.3" font-weight="bold" text-anchor="middle" fill="#111" stroke="#111" stroke-width="0.22">HIV+ Tx+</text>
<text x="79.80" y="132.13" font-size="6.2" font-weight="bold" text-anchor="middle" fill="#111" stroke="#111" stroke-width="0.22">sCD14</text>
<line x1="155.30" y1="143.90" x2="155.30" y2="222.70" stroke="#222" stroke-width="0.9"/>
<line x1="153.30" y1="222.40" x2="155.30" y2="222.40" stroke="#222" stroke-width="0.8"/>
<text x="152.30" y="224.40" font-size="5.55" font-weight="bold" text-anchor="end" fill="#111" stroke="#111" stroke-width="0.22">10</text>
<line x1="153.30" y1="188.80" x2="155.30" y2="188.80" stroke="#222" stroke-width="0.8"/>
<text x="152.30" y="190.80" font-size="5.55" font-weight="bold" text-anchor="end" fill="#111" stroke="#111" stroke-width="0.22">100</text>
<line x1="153.30" y1="155.20" x2="155.30" y2="155.20" stroke="#222" stroke-width="0.8"/>
<text x="152.30" y="157.20" font-size="5.55" font-weight="bold" text-anchor="end" fill="#111" stroke="#111" stroke-width="0.22">1000</text>
<line x1="153.70" y1="212.29" x2="155.30" y2="212.29" stroke="#222" stroke-width="0.75"/>
<line x1="153.70" y1="206.37" x2="155.30" y2="206.37" stroke="#222" stroke-width="0.75"/>
<line x1="153.70" y1="202.17" x2="155.30" y2="202.17" stroke="#222" stroke-width="0.75"/>
<line x1="153.70" y1="198.91" x2="155.30" y2="198.91" stroke="#222" stroke-width="0.75"/>
<line x1="153.70" y1="196.25" x2="155.30" y2="196.25" stroke="#222" stroke-width="0.75"/>
<line x1="153.70" y1="194.00" x2="155.30" y2="194.00" stroke="#222" stroke-width="0.75"/>
<line x1="153.70" y1="192.06" x2="155.30" y2="192.06" stroke="#222" stroke-width="0.75"/>
<line x1="153.70" y1="190.34" x2="155.30" y2="190.34" stroke="#222" stroke-width="0.75"/>
<line x1="153.70" y1="178.69" x2="155.30" y2="178.69" stroke="#222" stroke-width="0.75"/>
<line x1="153.70" y1="172.77" x2="155.30" y2="172.77" stroke="#222" stroke-width="0.75"/>
<line x1="153.70" y1="168.57" x2="155.30" y2="168.57" stroke="#222" stroke-width="0.75"/>
<line x1="153.70" y1="165.31" x2="155.30" y2="165.31" stroke="#222" stroke-width="0.75"/>
<line x1="153.70" y1="162.65" x2="155.30" y2="162.65" stroke="#222" stroke-width="0.75"/>
<line x1="153.70" y1="160.40" x2="155.30" y2="160.40" stroke="#222" stroke-width="0.75"/>
<line x1="153.70" y1="158.46" x2="155.30" y2="158.46" stroke="#222" stroke-width="0.75"/>
<line x1="153.70" y1="156.74" x2="155.30" y2="156.74" stroke="#222" stroke-width="0.75"/>
<line x1="153.70" y1="145.09" x2="155.30" y2="145.09" stroke="#222" stroke-width="0.75"/>
<line x1="154.90" y1="222.30" x2="254.00" y2="222.30" stroke="#222" stroke-width="0.9"/>
<line x1="164.50" y1="222.30" x2="164.50" y2="224.10" stroke="#222" stroke-width="0.7"/>
<line x1="181.60" y1="222.30" x2="181.60" y2="224.10" stroke="#222" stroke-width="0.7"/>
<line x1="197.40" y1="222.30" x2="197.40" y2="224.10" stroke="#222" stroke-width="0.7"/>
<line x1="215.00" y1="222.30" x2="215.00" y2="224.10" stroke="#222" stroke-width="0.7"/>
<line x1="231.20" y1="222.30" x2="231.20" y2="224.10" stroke="#222" stroke-width="0.7"/>
<line x1="248.30" y1="222.30" x2="248.30" y2="224.10" stroke="#222" stroke-width="0.7"/>
<text x="164.50" y="229.56" font-size="4.9" font-weight="bold" text-anchor="middle" fill="#111" stroke="#111" stroke-width="0.22">M</text>
<text x="181.60" y="229.56" font-size="4.9" font-weight="bold" text-anchor="middle" fill="#111" stroke="#111" stroke-width="0.22">L</text>
<text x="197.40" y="229.56" font-size="4.9" font-weight="bold" text-anchor="middle" fill="#111" stroke="#111" stroke-width="0.22">Lx</text>
<text x="215.00" y="229.56" font-size="4.9" font-weight="bold" text-anchor="middle" fill="#111" stroke="#111" stroke-width="0.22">Ix</text>
<text x="231.20" y="229.56" font-size="4.9" font-weight="bold" text-anchor="middle" fill="#111" stroke="#111" stroke-width="0.22">Hx</text>
<text x="248.30" y="229.56" font-size="4.9" font-weight="bold" text-anchor="middle" fill="#111" stroke="#111" stroke-width="0.22">Hxh</text>
<line x1="173.30" y1="142.00" x2="173.30" y2="251.00" stroke="#8a8a8a" stroke-width="1.0" stroke-dasharray="1.3,2.1"/>
<line x1="190.00" y1="142.00" x2="190.00" y2="251.00" stroke="#8a8a8a" stroke-width="1.0" stroke-dasharray="1.3,2.1"/>
<line x1="241.60" y1="142.00" x2="241.60" y2="251.00" stroke="#8a8a8a" stroke-width="1.0" stroke-dasharray="1.3,2.1"/>
<path d="M195.30,240.50 L228.20,232.85 Q231.20,232.30 233.70,232.30 L247.70,232.30 Q248.50,232.30 248.50,233.10 L248.50,240.50 Z" fill="#000"/>
<text x="238.10" y="238.87" font-size="5.75" font-weight="bold" text-anchor="middle" fill="#fff" stroke="#fff" stroke-width="0.22">CD4</text>
<text x="165.30" y="247.19" font-size="6.35" font-weight="bold" text-anchor="middle" fill="#111" stroke="#111" stroke-width="0.22">HIV-</text>
<text x="181.90" y="247.19" font-size="6.35" font-weight="bold" text-anchor="middle" fill="#111" stroke="#111" stroke-width="0.22">HIV+</text>
<text x="223.20" y="247.17" font-size="6.3" font-weight="bold" text-anchor="middle" fill="#111" stroke="#111" stroke-width="0.22">HIV+ Tx+</text>
<text x="206.20" y="132.00" font-size="6.4" font-weight="bold" text-anchor="middle" fill="#111" stroke="#111" stroke-width="0.22">IP-10</text>
<line x1="181.20" y1="141.10" x2="217.60" y2="141.10" stroke="#222" stroke-width="0.7"/>
<line x1="181.20" y1="141.10" x2="181.20" y2="143.50" stroke="#222" stroke-width="0.7"/>
<line x1="217.60" y1="141.10" x2="217.60" y2="143.50" stroke="#222" stroke-width="0.7"/>
<text x="197.00" y="141.67" font-size="5.3" font-weight="bold" text-anchor="middle" fill="#111">***</text>
<line x1="201.40" y1="143.60" x2="232.50" y2="143.60" stroke="#999" stroke-width="0.9"/>
<line x1="285.10" y1="144.10" x2="285.10" y2="222.60" stroke="#222" stroke-width="0.9"/>
<line x1="283.10" y1="204.80" x2="285.10" y2="204.80" stroke="#222" stroke-width="0.8"/>
<text x="282.10" y="206.80" font-size="5.55" font-weight="bold" text-anchor="end" fill="#111" stroke="#111" stroke-width="0.22">100</text>
<line x1="283.10" y1="144.40" x2="285.10" y2="144.40" stroke="#222" stroke-width="0.8"/>
<text x="282.10" y="146.40" font-size="5.55" font-weight="bold" text-anchor="end" fill="#111" stroke="#111" stroke-width="0.22">1000</text>
<line x1="283.50" y1="218.20" x2="285.10" y2="218.20" stroke="#222" stroke-width="0.75"/>
<line x1="283.50" y1="214.16" x2="285.10" y2="214.16" stroke="#222" stroke-width="0.75"/>
<line x1="283.50" y1="210.65" x2="285.10" y2="210.65" stroke="#222" stroke-width="0.75"/>
<line x1="283.50" y1="207.56" x2="285.10" y2="207.56" stroke="#222" stroke-width="0.75"/>
<line x1="283.50" y1="186.62" x2="285.10" y2="186.62" stroke="#222" stroke-width="0.75"/>
<line x1="283.50" y1="175.98" x2="285.10" y2="175.98" stroke="#222" stroke-width="0.75"/>
<line x1="283.50" y1="168.44" x2="285.10" y2="168.44" stroke="#222" stroke-width="0.75"/>
<line x1="283.50" y1="162.58" x2="285.10" y2="162.58" stroke="#222" stroke-width="0.75"/>
<line x1="283.50" y1="157.80" x2="285.10" y2="157.80" stroke="#222" stroke-width="0.75"/>
<line x1="283.50" y1="153.76" x2="285.10" y2="153.76" stroke="#222" stroke-width="0.75"/>
<line x1="283.50" y1="150.25" x2="285.10" y2="150.25" stroke="#222" stroke-width="0.75"/>
<line x1="283.50" y1="147.16" x2="285.10" y2="147.16" stroke="#222" stroke-width="0.75"/>
<line x1="284.70" y1="222.20" x2="384.00" y2="222.20" stroke="#222" stroke-width="0.9"/>
<line x1="293.00" y1="222.20" x2="293.00" y2="224.00" stroke="#222" stroke-width="0.7"/>
<line x1="311.40" y1="222.20" x2="311.40" y2="224.00" stroke="#222" stroke-width="0.7"/>
<line x1="327.60" y1="222.20" x2="327.60" y2="224.00" stroke="#222" stroke-width="0.7"/>
<line x1="344.80" y1="222.20" x2="344.80" y2="224.00" stroke="#222" stroke-width="0.7"/>
<line x1="362.10" y1="222.20" x2="362.10" y2="224.00" stroke="#222" stroke-width="0.7"/>
<line x1="378.70" y1="222.20" x2="378.70" y2="224.00" stroke="#222" stroke-width="0.7"/>
<text x="293.00" y="229.56" font-size="4.9" font-weight="bold" text-anchor="middle" fill="#111" stroke="#111" stroke-width="0.22">M</text>
<text x="311.40" y="229.56" font-size="4.9" font-weight="bold" text-anchor="middle" fill="#111" stroke="#111" stroke-width="0.22">L</text>
<text x="327.60" y="229.56" font-size="4.9" font-weight="bold" text-anchor="middle" fill="#111" stroke="#111" stroke-width="0.22">Lx</text>
<text x="344.80" y="229.56" font-size="4.9" font-weight="bold" text-anchor="middle" fill="#111" stroke="#111" stroke-width="0.22">Ix</text>
<text x="362.10" y="229.56" font-size="4.9" font-weight="bold" text-anchor="middle" fill="#111" stroke="#111" stroke-width="0.22">Hx</text>
<text x="378.70" y="229.56" font-size="4.9" font-weight="bold" text-anchor="middle" fill="#111" stroke="#111" stroke-width="0.22">Hxh</text>
<line x1="302.80" y1="142.00" x2="302.80" y2="251.00" stroke="#8a8a8a" stroke-width="1.0" stroke-dasharray="1.3,2.1"/>
<line x1="319.60" y1="142.00" x2="319.60" y2="251.00" stroke="#8a8a8a" stroke-width="1.0" stroke-dasharray="1.3,2.1"/>
<line x1="370.20" y1="142.00" x2="370.20" y2="251.00" stroke="#8a8a8a" stroke-width="1.0" stroke-dasharray="1.3,2.1"/>
<path d="M324.80,240.00 L357.40,232.85 Q360.40,232.30 362.90,232.30 L376.90,232.30 Q377.70,232.30 377.70,233.10 L377.70,240.00 Z" fill="#000"/>
<text x="367.60" y="238.67" font-size="5.75" font-weight="bold" text-anchor="middle" fill="#fff" stroke="#fff" stroke-width="0.22">CD4</text>
<text x="295.10" y="247.19" font-size="6.35" font-weight="bold" text-anchor="middle" fill="#111" stroke="#111" stroke-width="0.22">HIV-</text>
<text x="310.90" y="247.19" font-size="6.35" font-weight="bold" text-anchor="middle" fill="#111" stroke="#111" stroke-width="0.22">HIV+</text>
<text x="352.60" y="247.17" font-size="6.3" font-weight="bold" text-anchor="middle" fill="#111" stroke="#111" stroke-width="0.22">HIV+ Tx+</text>
<text x="335.50" y="131.30" font-size="6.1" font-weight="bold" text-anchor="middle" fill="#111" stroke="#111" stroke-width="0.22">MIG</text>
<line x1="311.40" y1="141.40" x2="347.10" y2="141.40" stroke="#222" stroke-width="0.7"/>
<line x1="311.40" y1="141.40" x2="311.40" y2="143.70" stroke="#222" stroke-width="0.7"/>
<line x1="347.10" y1="141.40" x2="347.10" y2="143.70" stroke="#222" stroke-width="0.7"/>
<text x="329.30" y="142.27" font-size="5.3" font-weight="bold" text-anchor="middle" fill="#111">***</text>
<line x1="331.00" y1="143.90" x2="362.60" y2="143.90" stroke="#999" stroke-width="0.9"/>
<line x1="416.20" y1="143.90" x2="416.20" y2="222.80" stroke="#222" stroke-width="0.9"/>
<line x1="414.20" y1="222.40" x2="416.20" y2="222.40" stroke="#222" stroke-width="0.8"/>
<text x="413.20" y="224.40" font-size="5.55" font-weight="bold" text-anchor="end" fill="#111" stroke="#111" stroke-width="0.22">1000</text>
<line x1="414.20" y1="144.50" x2="416.20" y2="144.50" stroke="#222" stroke-width="0.8"/>
<text x="413.20" y="146.50" font-size="5.55" font-weight="bold" text-anchor="end" fill="#111" stroke="#111" stroke-width="0.22">10000</text>
<line x1="414.60" y1="198.95" x2="416.20" y2="198.95" stroke="#222" stroke-width="0.75"/>
<line x1="414.60" y1="185.23" x2="416.20" y2="185.23" stroke="#222" stroke-width="0.75"/>
<line x1="414.60" y1="175.50" x2="416.20" y2="175.50" stroke="#222" stroke-width="0.75"/>
<line x1="414.60" y1="167.95" x2="416.20" y2="167.95" stroke="#222" stroke-width="0.75"/>
<line x1="414.60" y1="161.78" x2="416.20" y2="161.78" stroke="#222" stroke-width="0.75"/>
<line x1="414.60" y1="156.57" x2="416.20" y2="156.57" stroke="#222" stroke-width="0.75"/>
<line x1="414.60" y1="152.05" x2="416.20" y2="152.05" stroke="#222" stroke-width="0.75"/>
<line x1="414.60" y1="148.06" x2="416.20" y2="148.06" stroke="#222" stroke-width="0.75"/>
<line x1="415.80" y1="222.40" x2="516.00" y2="222.40" stroke="#222" stroke-width="0.9"/>
<line x1="424.40" y1="222.40" x2="424.40" y2="224.20" stroke="#222" stroke-width="0.7"/>
<line x1="442.00" y1="222.40" x2="442.00" y2="224.20" stroke="#222" stroke-width="0.7"/>
<line x1="459.20" y1="222.40" x2="459.20" y2="224.20" stroke="#222" stroke-width="0.7"/>
<line x1="476.20" y1="222.40" x2="476.20" y2="224.20" stroke="#222" stroke-width="0.7"/>
<line x1="492.80" y1="222.40" x2="492.80" y2="224.20" stroke="#222" stroke-width="0.7"/>
<line x1="510.00" y1="222.40" x2="510.00" y2="224.20" stroke="#222" stroke-width="0.7"/>
<text x="424.40" y="229.56" font-size="4.9" font-weight="bold" text-anchor="middle" fill="#111" stroke="#111" stroke-width="0.22">M</text>
<text x="442.00" y="229.56" font-size="4.9" font-weight="bold" text-anchor="middle" fill="#111" stroke="#111" stroke-width="0.22">L</text>
<text x="459.20" y="229.56" font-size="4.9" font-weight="bold" text-anchor="middle" fill="#111" stroke="#111" stroke-width="0.22">Lx</text>
<text x="476.20" y="229.56" font-size="4.9" font-weight="bold" text-anchor="middle" fill="#111" stroke="#111" stroke-width="0.22">Ix</text>
<text x="492.80" y="229.56" font-size="4.9" font-weight="bold" text-anchor="middle" fill="#111" stroke="#111" stroke-width="0.22">Hx</text>
<text x="510.00" y="229.56" font-size="4.9" font-weight="bold" text-anchor="middle" fill="#111" stroke="#111" stroke-width="0.22">Hxh</text>
<line x1="433.70" y1="142.00" x2="433.70" y2="251.00" stroke="#8a8a8a" stroke-width="1.0" stroke-dasharray="1.3,2.1"/>
<line x1="450.50" y1="142.00" x2="450.50" y2="251.00" stroke="#8a8a8a" stroke-width="1.0" stroke-dasharray="1.3,2.1"/>
<line x1="502.30" y1="142.00" x2="502.30" y2="251.00" stroke="#8a8a8a" stroke-width="1.0" stroke-dasharray="1.3,2.1"/>
<path d="M456.60,240.20 L487.00,232.55 Q490.00,232.00 492.50,232.00 L508.30,232.00 Q509.10,232.00 509.10,232.80 L509.10,240.20 Z" fill="#000"/>
<text x="498.70" y="238.57" font-size="5.75" font-weight="bold" text-anchor="middle" fill="#fff" stroke="#fff" stroke-width="0.22">CD4</text>
<text x="426.30" y="247.19" font-size="6.35" font-weight="bold" text-anchor="middle" fill="#111" stroke="#111" stroke-width="0.22">HIV-</text>
<text x="442.80" y="247.19" font-size="6.35" font-weight="bold" text-anchor="middle" fill="#111" stroke="#111" stroke-width="0.22">HIV+</text>
<text x="483.70" y="247.17" font-size="6.3" font-weight="bold" text-anchor="middle" fill="#111" stroke="#111" stroke-width="0.22">HIV+ Tx+</text>
<text x="465.10" y="131.43" font-size="6.2" font-weight="bold" text-anchor="middle" fill="#111" stroke="#111" stroke-width="0.22">SDF-1α</text>
<line x1="442.40" y1="141.40" x2="478.30" y2="141.40" stroke="#222" stroke-width="0.7"/>
<line x1="442.40" y1="141.40" x2="442.40" y2="143.70" stroke="#222" stroke-width="0.7"/>
<line x1="478.30" y1="141.40" x2="478.30" y2="143.70" stroke="#222" stroke-width="0.7"/>
<text x="456.90" y="142.27" font-size="5.3" font-weight="bold" text-anchor="middle" fill="#111">**</text>
<line x1="461.20" y1="144.10" x2="494.20" y2="144.10" stroke="#999" stroke-width="0.9"/>
<circle cx="37.90" cy="184.10" r="1.29" fill="#bdbdbd" stroke="#222" stroke-width="0.95"/>
<circle cx="38.30" cy="197.00" r="1.29" fill="#bdbdbd" stroke="#222" stroke-width="0.95"/>
<circle cx="36.60" cy="198.30" r="1.29" fill="#bdbdbd" stroke="#222" stroke-width="0.95"/>
<circle cx="40.10" cy="198.30" r="1.29" fill="#bdbdbd" stroke="#222" stroke-width="0.95"/>
<circle cx="37.00" cy="200.50" r="1.29" fill="#bdbdbd" stroke="#222" stroke-width="0.95"/>
<circle cx="39.60" cy="200.90" r="1.29" fill="#bdbdbd" stroke="#222" stroke-width="0.95"/>
<circle cx="38.30" cy="201.80" r="1.29" fill="#bdbdbd" stroke="#222" stroke-width="0.95"/>
<circle cx="35.30" cy="204.40" r="1.29" fill="#bdbdbd" stroke="#222" stroke-width="0.95"/>
<circle cx="33.50" cy="206.20" r="1.29" fill="#bdbdbd" stroke="#222" stroke-width="0.95"/>
<circle cx="37.50" cy="205.30" r="1.29" fill="#bdbdbd" stroke="#222" stroke-width="0.95"/>
<circle cx="40.10" cy="204.80" r="1.29" fill="#bdbdbd" stroke="#222" stroke-width="0.95"/>
<circle cx="35.70" cy="207.47" r="1.29" fill="#bdbdbd" stroke="#222" stroke-width="0.95"/>
<circle cx="38.30" cy="207.00" r="1.29" fill="#bdbdbd" stroke="#222" stroke-width="0.95"/>
<circle cx="40.50" cy="207.50" r="1.29" fill="#bdbdbd" stroke="#222" stroke-width="0.95"/>
<circle cx="36.60" cy="209.20" r="1.29" fill="#bdbdbd" stroke="#222" stroke-width="0.95"/>
<circle cx="38.80" cy="208.80" r="1.29" fill="#bdbdbd" stroke="#222" stroke-width="0.95"/>
<circle cx="37.90" cy="211.90" r="1.29" fill="#bdbdbd" stroke="#222" stroke-width="0.95"/>
<circle cx="39.60" cy="212.30" r="1.29" fill="#bdbdbd" stroke="#222" stroke-width="0.95"/>
<circle cx="42.00" cy="206.00" r="1.29" fill="#bdbdbd" stroke="#222" stroke-width="0.95"/>
<line x1="31.60" y1="205.30" x2="43.20" y2="205.30" stroke="#333" stroke-width="0.7"/>
<polygon points="54.80,156.80 56.60,158.80 54.80,160.80 53.00,158.80" fill="#fff" stroke="#1a1a1a" stroke-width="0.85"/>
<polygon points="54.80,162.00 56.60,164.00 54.80,166.00 53.00,164.00" fill="#fff" stroke="#1a1a1a" stroke-width="0.85"/>
<polygon points="50.30,168.70 52.10,170.70 50.30,172.70 48.50,170.70" fill="#fff" stroke="#1a1a1a" stroke-width="0.85"/>
<polygon points="54.80,168.70 56.60,170.70 54.80,172.70 53.00,170.70" fill="#fff" stroke="#1a1a1a" stroke-width="0.85"/>
<polygon points="52.20,172.70 54.00,174.70 52.20,176.70 50.40,174.70" fill="#fff" stroke="#1a1a1a" stroke-width="0.85"/>
<polygon points="55.90,175.40 57.70,177.40 55.90,179.40 54.10,177.40" fill="#fff" stroke="#1a1a1a" stroke-width="0.85"/>
<polygon points="57.50,176.40 59.30,178.40 57.50,180.40 55.70,178.40" fill="#fff" stroke="#1a1a1a" stroke-width="0.85"/>
<polygon points="53.50,177.50 55.30,179.50 53.50,181.50 51.70,179.50" fill="#fff" stroke="#1a1a1a" stroke-width="0.85"/>
<polygon points="50.30,182.40 52.10,184.40 50.30,186.40 48.50,184.40" fill="#fff" stroke="#1a1a1a" stroke-width="0.85"/>
<polygon points="51.90,181.60 53.70,183.60 51.90,185.60 50.10,183.60" fill="#fff" stroke="#1a1a1a" stroke-width="0.85"/>
<polygon points="53.50,183.20 55.30,185.20 53.50,187.20 51.70,185.20" fill="#fff" stroke="#1a1a1a" stroke-width="0.85"/>
<polygon points="55.90,182.10 57.70,184.10 55.90,186.10 54.10,184.10" fill="#fff" stroke="#1a1a1a" stroke-width="0.85"/>
<polygon points="57.50,184.00 59.30,186.00 57.50,188.00 55.70,186.00" fill="#fff" stroke="#1a1a1a" stroke-width="0.85"/>
<polygon points="54.30,184.80 56.10,186.80 54.30,188.80 52.50,186.80" fill="#fff" stroke="#1a1a1a" stroke-width="0.85"/>
<polygon points="55.90,185.60 57.70,187.60 55.90,189.60 54.10,187.60" fill="#fff" stroke="#1a1a1a" stroke-width="0.85"/>
<polygon points="56.70,187.50 58.50,189.50 56.70,191.50 54.90,189.50" fill="#fff" stroke="#1a1a1a" stroke-width="0.85"/>
<polygon points="57.50,189.50 59.30,191.50 57.50,193.50 55.70,191.50" fill="#fff" stroke="#1a1a1a" stroke-width="0.85"/>
<polygon points="50.30,191.90 52.10,193.90 50.30,195.90 48.50,193.90" fill="#fff" stroke="#1a1a1a" stroke-width="0.85"/>
<polygon points="51.90,193.50 53.70,195.50 51.90,197.50 50.10,195.50" fill="#fff" stroke="#1a1a1a" stroke-width="0.85"/>
<polygon points="54.30,194.30 56.10,196.30 54.30,198.30 52.50,196.30" fill="#fff" stroke="#1a1a1a" stroke-width="0.85"/>
<polygon points="52.70,195.90 54.50,197.90 52.70,199.90 50.90,197.90" fill="#fff" stroke="#1a1a1a" stroke-width="0.85"/>
<polygon points="55.90,195.90 57.70,197.90 55.90,199.90 54.10,197.90" fill="#fff" stroke="#1a1a1a" stroke-width="0.85"/>
<polygon points="54.80,198.30 56.60,200.30 54.80,202.30 53.00,200.30" fill="#fff" stroke="#1a1a1a" stroke-width="0.85"/>
<polygon points="56.70,197.50 58.50,199.50 56.70,201.50 54.90,199.50" fill="#fff" stroke="#1a1a1a" stroke-width="0.85"/>
<polygon points="49.00,180.00 50.80,182.00 49.00,184.00 47.20,182.00" fill="#fff" stroke="#1a1a1a" stroke-width="0.85"/>
<line x1="48.50" y1="185.20" x2="60.10" y2="185.20" stroke="#333" stroke-width="0.7"/>
<polygon points="65.50,154.30 69.10,154.30 67.30,157.40" fill="#fff" stroke="#111" stroke-width="0.8"/>
<polygon points="69.90,155.60 73.50,155.60 71.70,158.70" fill="#fff" stroke="#111" stroke-width="0.8"/>
<polygon points="69.90,174.60 73.50,174.60 71.70,177.70" fill="#fff" stroke="#111" stroke-width="0.8"/>
<polygon points="72.40,177.70 76.00,177.70 74.20,180.80" fill="#fff" stroke="#111" stroke-width="0.8"/>
<polygon points="66.00,180.30 69.60,180.30 67.80,183.40" fill="#fff" stroke="#111" stroke-width="0.8"/>
<polygon points="69.90,181.50 73.50,181.50 71.70,184.60" fill="#fff" stroke="#111" stroke-width="0.8"/>
<polygon points="73.70,185.40 77.30,185.40 75.50,188.50" fill="#fff" stroke="#111" stroke-width="0.8"/>
<polygon points="69.90,188.00 73.50,188.00 71.70,191.10" fill="#fff" stroke="#111" stroke-width="0.8"/>
<polygon points="65.50,197.40 69.10,197.40 67.30,200.50" fill="#fff" stroke="#111" stroke-width="0.8"/>
<polygon points="69.90,197.80 73.50,197.80 71.70,200.90" fill="#fff" stroke="#111" stroke-width="0.8"/>
<polygon points="67.80,204.50 71.40,204.50 69.60,207.60" fill="#fff" stroke="#111" stroke-width="0.8"/>
<polygon points="70.20,206.90 73.80,206.90 72.00,210.00" fill="#fff" stroke="#111" stroke-width="0.8"/>
<polygon points="72.60,207.70 76.20,207.70 74.40,210.80" fill="#fff" stroke="#111" stroke-width="0.8"/>
<polygon points="69.40,209.30 73.00,209.30 71.20,212.40" fill="#fff" stroke="#111" stroke-width="0.8"/>
<line x1="66.20" y1="186.80" x2="77.00" y2="186.80" stroke="#333" stroke-width="0.7"/>
<polygon points="87.30,168.80 90.90,168.80 89.10,171.90" fill="#777" stroke="#111" stroke-width="0.75"/>
<polygon points="82.50,177.20 86.10,177.20 84.30,180.30" fill="#777" stroke="#111" stroke-width="0.75"/>
<polygon points="87.30,176.00 90.90,176.00 89.10,179.10" fill="#777" stroke="#111" stroke-width="0.75"/>
<polygon points="89.10,177.20 92.70,177.20 90.90,180.30" fill="#777" stroke="#111" stroke-width="0.75"/>
<polygon points="86.10,180.80 89.70,180.80 87.90,183.90" fill="#777" stroke="#111" stroke-width="0.75"/>
<polygon points="87.00,183.50 90.60,183.50 88.80,186.60" fill="#777" stroke="#111" stroke-width="0.75"/>
<polygon points="84.30,184.90 87.90,184.90 86.10,188.00" fill="#777" stroke="#111" stroke-width="0.75"/>
<polygon points="88.40,186.20 92.00,186.20 90.20,189.30" fill="#777" stroke="#111" stroke-width="0.75"/>
<polygon points="87.00,188.00 90.60,188.00 88.80,191.10" fill="#777" stroke="#111" stroke-width="0.75"/>
<polygon points="82.50,190.70 86.10,190.70 84.30,193.80" fill="#777" stroke="#111" stroke-width="0.75"/>
<polygon points="86.10,191.60 89.70,191.60 87.90,194.70" fill="#777" stroke="#111" stroke-width="0.75"/>
<polygon points="87.30,195.20 90.90,195.20 89.10,198.30" fill="#777" stroke="#111" stroke-width="0.75"/>
<polygon points="87.30,205.90 90.90,205.90 89.10,209.00" fill="#777" stroke="#111" stroke-width="0.75"/>
<line x1="84.40" y1="187.40" x2="94.80" y2="187.40" stroke="#222" stroke-width="0.9"/>
<polygon points="104.90,177.15 108.50,177.15 106.70,180.25" fill="#000" stroke="none" stroke-width="0"/>
<polygon points="102.70,176.65 106.30,176.65 104.50,179.75" fill="#000" stroke="none" stroke-width="0"/>
<polygon points="106.70,178.05 110.30,178.05 108.50,181.15" fill="#000" stroke="none" stroke-width="0"/>
<polygon points="100.40,179.85 104.00,179.85 102.20,182.95" fill="#000" stroke="none" stroke-width="0"/>
<polygon points="104.50,181.65 108.10,181.65 106.30,184.75" fill="#000" stroke="none" stroke-width="0"/>
<polygon points="102.20,185.25 105.80,185.25 104.00,188.35" fill="#000" stroke="none" stroke-width="0"/>
<polygon points="106.70,186.15 110.30,186.15 108.50,189.25" fill="#000" stroke="none" stroke-width="0"/>
<polygon points="104.00,187.45 107.60,187.45 105.80,190.55" fill="#000" stroke="none" stroke-width="0"/>
<polygon points="103.10,190.25 106.70,190.25 104.90,193.35" fill="#000" stroke="none" stroke-width="0"/>
<polygon points="100.40,193.35 104.00,193.35 102.20,196.45" fill="#000" stroke="none" stroke-width="0"/>
<polygon points="105.20,192.45 108.80,192.45 107.00,195.55" fill="#000" stroke="none" stroke-width="0"/>
<polygon points="104.90,196.05 108.50,196.05 106.70,199.15" fill="#000" stroke="none" stroke-width="0"/>
<polygon points="104.50,202.85 108.10,202.85 106.30,205.95" fill="#000" stroke="none" stroke-width="0"/>
<line x1="100.40" y1="188.30" x2="112.00" y2="188.30" stroke="#222" stroke-width="0.9"/>
<polygon points="116.70,180.45 120.30,180.45 118.50,177.35" fill="#000" stroke="none" stroke-width="0"/>
<polygon points="121.30,181.75 124.90,181.75 123.10,178.65" fill="#000" stroke="none" stroke-width="0"/>
<polygon points="119.60,185.55 123.20,185.55 121.40,182.45" fill="#000" stroke="none" stroke-width="0"/>
<polygon points="121.80,186.55 125.40,186.55 123.60,183.45" fill="#000" stroke="none" stroke-width="0"/>
<polygon points="123.50,188.65 127.10,188.65 125.30,185.55" fill="#000" stroke="none" stroke-width="0"/>
<polygon points="117.00,192.35 120.60,192.35 118.80,189.25" fill="#000" stroke="none" stroke-width="0"/>
<polygon points="120.80,192.95 124.40,192.95 122.60,189.85" fill="#000" stroke="none" stroke-width="0"/>
<polygon points="119.60,199.75 123.20,199.75 121.40,196.65" fill="#000" stroke="none" stroke-width="0"/>
<polygon points="122.20,198.85 125.80,198.85 124.00,195.75" fill="#000" stroke="none" stroke-width="0"/>
<polygon points="122.50,200.95 126.10,200.95 124.30,197.85" fill="#000" stroke="none" stroke-width="0"/>
<polygon points="121.30,202.65 124.90,202.65 123.10,199.55" fill="#000" stroke="none" stroke-width="0"/>
<polygon points="121.30,207.45 124.90,207.45 123.10,204.35" fill="#000" stroke="none" stroke-width="0"/>
<polygon points="121.30,213.45 124.90,213.45 123.10,210.35" fill="#000" stroke="none" stroke-width="0"/>
<line x1="117.90" y1="191.70" x2="129.10" y2="191.70" stroke="#888" stroke-width="0.9"/>
<circle cx="166.50" cy="182.30" r="1.40" fill="#bdbdbd" stroke="#222" stroke-width="0.95"/>
<circle cx="164.60" cy="187.00" r="1.40" fill="#bdbdbd" stroke="#222" stroke-width="0.95"/>
<circle cx="161.40" cy="189.00" r="1.40" fill="#bdbdbd" stroke="#222" stroke-width="0.95"/>
<circle cx="163.80" cy="190.10" r="1.40" fill="#bdbdbd" stroke="#222" stroke-width="0.95"/>
<circle cx="166.20" cy="189.70" r="1.40" fill="#bdbdbd" stroke="#222" stroke-width="0.95"/>
<circle cx="167.70" cy="190.90" r="1.40" fill="#bdbdbd" stroke="#222" stroke-width="0.95"/>
<circle cx="160.60" cy="191.70" r="1.40" fill="#bdbdbd" stroke="#222" stroke-width="0.95"/>
<circle cx="163.80" cy="194.90" r="1.40" fill="#bdbdbd" stroke="#222" stroke-width="0.95"/>
<circle cx="165.40" cy="195.70" r="1.40" fill="#bdbdbd" stroke="#222" stroke-width="0.95"/>
<circle cx="161.40" cy="197.30" r="1.40" fill="#bdbdbd" stroke="#222" stroke-width="0.95"/>
<circle cx="164.60" cy="198.10" r="1.40" fill="#bdbdbd" stroke="#222" stroke-width="0.95"/>
<circle cx="159.80" cy="199.70" r="1.40" fill="#bdbdbd" stroke="#222" stroke-width="0.95"/>
<circle cx="163.00" cy="199.70" r="1.40" fill="#bdbdbd" stroke="#222" stroke-width="0.95"/>
<circle cx="166.20" cy="200.50" r="1.40" fill="#bdbdbd" stroke="#222" stroke-width="0.95"/>
<circle cx="161.40" cy="205.00" r="1.40" fill="#bdbdbd" stroke="#222" stroke-width="0.95"/>
<circle cx="163.80" cy="206.10" r="1.40" fill="#bdbdbd" stroke="#222" stroke-width="0.95"/>
<circle cx="162.20" cy="208.50" r="1.40" fill="#bdbdbd" stroke="#222" stroke-width="0.95"/>
<circle cx="165.40" cy="208.80" r="1.40" fill="#bdbdbd" stroke="#222" stroke-width="0.95"/>
<circle cx="162.00" cy="193.00" r="1.40" fill="#bdbdbd" stroke="#222" stroke-width="0.95"/>
<circle cx="166.00" cy="193.50" r="1.40" fill="#bdbdbd" stroke="#222" stroke-width="0.95"/>
<line x1="158.00" y1="194.80" x2="170.00" y2="194.80" stroke="#111" stroke-width="0.9"/>
<polygon points="177.30,147.80 179.10,149.80 177.30,151.80 175.50,149.80" fill="#fff" stroke="#1a1a1a" stroke-width="0.85"/>
<polygon points="178.90,147.00 180.70,149.00 178.90,151.00 177.10,149.00" fill="#fff" stroke="#1a1a1a" stroke-width="0.85"/>
<polygon points="180.50,148.60 182.30,150.60 180.50,152.60 178.70,150.60" fill="#fff" stroke="#1a1a1a" stroke-width="0.85"/>
<polygon points="182.90,147.80 184.70,149.80 182.90,151.80 181.10,149.80" fill="#fff" stroke="#1a1a1a" stroke-width="0.85"/>
<polygon points="176.50,149.70 178.30,151.70 176.50,153.70 174.70,151.70" fill="#fff" stroke="#1a1a1a" stroke-width="0.85"/>
<polygon points="181.30,154.20 183.10,156.20 181.30,158.20 179.50,156.20" fill="#fff" stroke="#1a1a1a" stroke-width="0.85"/>
<polygon points="181.30,159.70 183.10,161.70 181.30,163.70 179.50,161.70" fill="#fff" stroke="#1a1a1a" stroke-width="0.85"/>
<polygon points="176.50,163.70 178.30,165.70 176.50,167.70 174.70,165.70" fill="#fff" stroke="#1a1a1a" stroke-width="0.85"/>
<polygon points="178.90,162.90 180.70,164.90 178.90,166.90 177.10,164.90" fill="#fff" stroke="#1a1a1a" stroke-width="0.85"/>
<polygon points="181.30,163.70 183.10,165.70 181.30,167.70 179.50,165.70" fill="#fff" stroke="#1a1a1a" stroke-width="0.85"/>
<polygon points="183.70,163.70 185.50,165.70 183.70,167.70 181.90,165.70" fill="#fff" stroke="#1a1a1a" stroke-width="0.85"/>
<polygon points="178.90,166.10 180.70,168.10 178.90,170.10 177.10,168.10" fill="#fff" stroke="#1a1a1a" stroke-width="0.85"/>
<polygon points="181.30,166.90 183.10,168.90 181.30,170.90 179.50,168.90" fill="#fff" stroke="#1a1a1a" stroke-width="0.85"/>
<polygon points="183.40,168.50 185.20,170.50 183.40,172.50 181.60,170.50" fill="#fff" stroke="#1a1a1a" stroke-width="0.85"/>
<polygon points="178.90,168.50 180.70,170.50 178.90,172.50 177.10,170.50" fill="#fff" stroke="#1a1a1a" stroke-width="0.85"/>
<polygon points="179.50,165.00 181.30,167.00 179.50,169.00 177.70,167.00" fill="#fff" stroke="#1a1a1a" stroke-width="0.85"/>
<polygon points="182.00,165.50 183.80,167.50 182.00,169.50 180.20,167.50" fill="#fff" stroke="#1a1a1a" stroke-width="0.85"/>
<polygon points="181.30,170.90 183.10,172.90 181.30,174.90 179.50,172.90" fill="#fff" stroke="#1a1a1a" stroke-width="0.85"/>
<polygon points="176.50,176.30 178.30,178.30 176.50,180.30 174.70,178.30" fill="#fff" stroke="#1a1a1a" stroke-width="0.85"/>
<polygon points="181.30,176.20 183.10,178.20 181.30,180.20 179.50,178.20" fill="#fff" stroke="#1a1a1a" stroke-width="0.85"/>
<polygon points="182.90,174.90 184.70,176.90 182.90,178.90 181.10,176.90" fill="#fff" stroke="#1a1a1a" stroke-width="0.85"/>
<polygon points="181.30,183.80 183.10,185.80 181.30,187.80 179.50,185.80" fill="#fff" stroke="#1a1a1a" stroke-width="0.85"/>
<polygon points="183.40,182.90 185.20,184.90 183.40,186.90 181.60,184.90" fill="#fff" stroke="#1a1a1a" stroke-width="0.85"/>
<line x1="175.10" y1="166.50" x2="186.10" y2="166.50" stroke="#111" stroke-width="0.9"/>
<polygon points="191.40,169.70 195.00,169.70 193.20,172.80" fill="#fff" stroke="#111" stroke-width="0.8"/>
<polygon points="196.60,170.50 200.20,170.50 198.40,173.60" fill="#fff" stroke="#111" stroke-width="0.8"/>
<polygon points="194.00,176.40 197.60,176.40 195.80,179.50" fill="#fff" stroke="#111" stroke-width="0.8"/>
<polygon points="197.90,178.20 201.50,178.20 199.70,181.30" fill="#fff" stroke="#111" stroke-width="0.8"/>
<polygon points="191.90,183.40 195.50,183.40 193.70,186.50" fill="#fff" stroke="#111" stroke-width="0.8"/>
<polygon points="196.00,183.40 199.60,183.40 197.80,186.50" fill="#fff" stroke="#111" stroke-width="0.8"/>
<polygon points="199.20,183.40 202.80,183.40 201.00,186.50" fill="#fff" stroke="#111" stroke-width="0.8"/>
<polygon points="194.00,186.80 197.60,186.80 195.80,189.90" fill="#fff" stroke="#111" stroke-width="0.8"/>
<polygon points="197.90,188.60 201.50,188.60 199.70,191.70" fill="#fff" stroke="#111" stroke-width="0.8"/>
<polygon points="196.60,189.90 200.20,189.90 198.40,193.00" fill="#fff" stroke="#111" stroke-width="0.8"/>
<line x1="192.00" y1="185.10" x2="204.00" y2="185.10" stroke="#333" stroke-width="0.7"/>
<polygon points="213.10,167.80 216.70,167.80 214.90,170.90" fill="#777" stroke="#111" stroke-width="0.75"/>
<polygon points="214.90,170.40 218.50,170.40 216.70,173.50" fill="#777" stroke="#111" stroke-width="0.75"/>
<polygon points="211.30,173.10 214.90,173.10 213.10,176.20" fill="#777" stroke="#111" stroke-width="0.75"/>
<polygon points="215.80,174.00 219.40,174.00 217.60,177.10" fill="#777" stroke="#111" stroke-width="0.75"/>
<polygon points="209.50,176.70 213.10,176.70 211.30,179.80" fill="#777" stroke="#111" stroke-width="0.75"/>
<polygon points="213.10,176.70 216.70,176.70 214.90,179.80" fill="#777" stroke="#111" stroke-width="0.75"/>
<polygon points="216.70,177.60 220.30,177.60 218.50,180.70" fill="#777" stroke="#111" stroke-width="0.75"/>
<polygon points="210.40,179.40 214.00,179.40 212.20,182.50" fill="#777" stroke="#111" stroke-width="0.75"/>
<polygon points="214.90,180.30 218.50,180.30 216.70,183.40" fill="#777" stroke="#111" stroke-width="0.75"/>
<polygon points="208.60,182.10 212.20,182.10 210.40,185.20" fill="#777" stroke="#111" stroke-width="0.75"/>
<polygon points="212.20,183.00 215.80,183.00 214.00,186.10" fill="#777" stroke="#111" stroke-width="0.75"/>
<polygon points="216.70,183.00 220.30,183.00 218.50,186.10" fill="#777" stroke="#111" stroke-width="0.75"/>
<polygon points="210.40,185.70 214.00,185.70 212.20,188.80" fill="#777" stroke="#111" stroke-width="0.75"/>
<polygon points="214.00,185.70 217.60,185.70 215.80,188.80" fill="#777" stroke="#111" stroke-width="0.75"/>
<polygon points="209.50,187.50 213.10,187.50 211.30,190.60" fill="#777" stroke="#111" stroke-width="0.75"/>
<polygon points="213.10,188.40 216.70,188.40 214.90,191.50" fill="#777" stroke="#111" stroke-width="0.75"/>
<polygon points="215.80,187.50 219.40,187.50 217.60,190.60" fill="#777" stroke="#111" stroke-width="0.75"/>
<polygon points="213.10,196.40 216.70,196.40 214.90,199.50" fill="#777" stroke="#111" stroke-width="0.75"/>
<line x1="209.20" y1="184.60" x2="220.80" y2="184.60" stroke="#222" stroke-width="0.9"/>
<polygon points="226.50,169.35 230.10,169.35 228.30,172.45" fill="#000" stroke="none" stroke-width="0"/>
<polygon points="228.80,168.65 232.40,168.65 230.60,171.75" fill="#000" stroke="none" stroke-width="0"/>
<polygon points="232.00,169.55 235.60,169.55 233.80,172.65" fill="#000" stroke="none" stroke-width="0"/>
<polygon points="233.40,170.05 237.00,170.05 235.20,173.15" fill="#000" stroke="none" stroke-width="0"/>
<polygon points="230.60,176.25 234.20,176.25 232.40,179.35" fill="#000" stroke="none" stroke-width="0"/>
<polygon points="232.50,176.95 236.10,176.95 234.30,180.05" fill="#000" stroke="none" stroke-width="0"/>
<polygon points="229.30,178.35 232.90,178.35 231.10,181.45" fill="#000" stroke="none" stroke-width="0"/>
<polygon points="226.50,180.45 230.10,180.45 228.30,183.55" fill="#000" stroke="none" stroke-width="0"/>
<polygon points="229.90,180.75 233.50,180.75 231.70,183.85" fill="#000" stroke="none" stroke-width="0"/>
<polygon points="232.70,180.45 236.30,180.45 234.50,183.55" fill="#000" stroke="none" stroke-width="0"/>
<polygon points="227.90,183.25 231.50,183.25 229.70,186.35" fill="#000" stroke="none" stroke-width="0"/>
<polygon points="230.20,183.25 233.80,183.25 232.00,186.35" fill="#000" stroke="none" stroke-width="0"/>
<polygon points="228.60,186.75 232.20,186.75 230.40,189.85" fill="#000" stroke="none" stroke-width="0"/>
<polygon points="231.10,190.95 234.70,190.95 232.90,194.05" fill="#000" stroke="none" stroke-width="0"/>
<polygon points="233.00,191.65 236.60,191.65 234.80,194.75" fill="#000" stroke="none" stroke-width="0"/>
<line x1="226.50" y1="182.40" x2="237.50" y2="182.40" stroke="#222" stroke-width="0.8"/>
<polygon points="247.40,172.55 251.00,172.55 249.20,169.45" fill="#000" stroke="none" stroke-width="0"/>
<polygon points="245.30,175.35 248.90,175.35 247.10,172.25" fill="#000" stroke="none" stroke-width="0"/>
<polygon points="249.40,175.95 253.00,175.95 251.20,172.85" fill="#000" stroke="none" stroke-width="0"/>
<polygon points="247.40,177.35 251.00,177.35 249.20,174.25" fill="#000" stroke="none" stroke-width="0"/>
<polygon points="248.80,178.75 252.40,178.75 250.60,175.65" fill="#000" stroke="none" stroke-width="0"/>
<polygon points="249.40,184.35 253.00,184.35 251.20,181.25" fill="#000" stroke="none" stroke-width="0"/>
<polygon points="247.40,186.45 251.00,186.45 249.20,183.35" fill="#000" stroke="none" stroke-width="0"/>
<polygon points="244.60,188.55 248.20,188.55 246.40,185.45" fill="#000" stroke="none" stroke-width="0"/>
<polygon points="246.70,189.25 250.30,189.25 248.50,186.15" fill="#000" stroke="none" stroke-width="0"/>
<polygon points="249.40,188.55 253.00,188.55 251.20,185.45" fill="#000" stroke="none" stroke-width="0"/>
<polygon points="245.30,191.35 248.90,191.35 247.10,188.25" fill="#000" stroke="none" stroke-width="0"/>
<polygon points="248.10,192.05 251.70,192.05 249.90,188.95" fill="#000" stroke="none" stroke-width="0"/>
<polygon points="246.00,194.15 249.60,194.15 247.80,191.05" fill="#000" stroke="none" stroke-width="0"/>
<polygon points="249.40,194.85 253.00,194.85 251.20,191.75" fill="#000" stroke="none" stroke-width="0"/>
<polygon points="247.40,195.45 251.00,195.45 249.20,192.35" fill="#000" stroke="none" stroke-width="0"/>
<line x1="243.80" y1="187.30" x2="254.20" y2="187.30" stroke="#222" stroke-width="0.8"/>
<circle cx="291.00" cy="191.00" r="1.40" fill="#bdbdbd" stroke="#222" stroke-width="0.95"/>
<circle cx="293.00" cy="190.50" r="1.40" fill="#bdbdbd" stroke="#222" stroke-width="0.95"/>
<circle cx="295.50" cy="193.00" r="1.40" fill="#bdbdbd" stroke="#222" stroke-width="0.95"/>
<circle cx="290.50" cy="195.50" r="1.40" fill="#bdbdbd" stroke="#222" stroke-width="0.95"/>
<circle cx="293.00" cy="196.00" r="1.40" fill="#bdbdbd" stroke="#222" stroke-width="0.95"/>
<circle cx="295.00" cy="191.50" r="1.40" fill="#bdbdbd" stroke="#222" stroke-width="0.95"/>
<circle cx="293.80" cy="182.50" r="1.40" fill="#bdbdbd" stroke="#222" stroke-width="0.95"/>
<circle cx="293.80" cy="187.40" r="1.40" fill="#bdbdbd" stroke="#222" stroke-width="0.95"/>
<circle cx="291.40" cy="188.80" r="1.40" fill="#bdbdbd" stroke="#222" stroke-width="0.95"/>
<circle cx="294.90" cy="189.60" r="1.40" fill="#bdbdbd" stroke="#222" stroke-width="0.95"/>
<circle cx="289.80" cy="192.00" r="1.40" fill="#bdbdbd" stroke="#222" stroke-width="0.95"/>
<circle cx="292.20" cy="192.00" r="1.40" fill="#bdbdbd" stroke="#222" stroke-width="0.95"/>
<circle cx="294.60" cy="192.00" r="1.40" fill="#bdbdbd" stroke="#222" stroke-width="0.95"/>
<circle cx="292.20" cy="194.30" r="1.40" fill="#bdbdbd" stroke="#222" stroke-width="0.95"/>
<circle cx="294.60" cy="194.70" r="1.40" fill="#bdbdbd" stroke="#222" stroke-width="0.95"/>
<circle cx="296.20" cy="195.90" r="1.40" fill="#bdbdbd" stroke="#222" stroke-width="0.95"/>
<circle cx="293.00" cy="196.70" r="1.40" fill="#bdbdbd" stroke="#222" stroke-width="0.95"/>
<circle cx="289.80" cy="203.90" r="1.40" fill="#bdbdbd" stroke="#222" stroke-width="0.95"/>
<circle cx="292.20" cy="203.10" r="1.40" fill="#bdbdbd" stroke="#222" stroke-width="0.95"/>
<circle cx="294.90" cy="202.30" r="1.40" fill="#bdbdbd" stroke="#222" stroke-width="0.95"/>
<circle cx="291.40" cy="206.30" r="1.40" fill="#bdbdbd" stroke="#222" stroke-width="0.95"/>
<circle cx="294.20" cy="206.30" r="1.40" fill="#bdbdbd" stroke="#222" stroke-width="0.95"/>
<circle cx="296.20" cy="205.50" r="1.40" fill="#bdbdbd" stroke="#222" stroke-width="0.95"/>
<circle cx="292.20" cy="209.20" r="1.40" fill="#bdbdbd" stroke="#222" stroke-width="0.95"/>
<circle cx="294.90" cy="209.50" r="1.40" fill="#bdbdbd" stroke="#222" stroke-width="0.95"/>
<line x1="287.40" y1="192.60" x2="299.40" y2="192.60" stroke="#111" stroke-width="1.0"/>
<polygon points="310.50,150.40 312.30,152.40 310.50,154.40 308.70,152.40" fill="#fff" stroke="#1a1a1a" stroke-width="0.85"/>
<polygon points="310.50,155.60 312.30,157.60 310.50,159.60 308.70,157.60" fill="#fff" stroke="#1a1a1a" stroke-width="0.85"/>
<polygon points="310.50,168.40 312.30,170.40 310.50,172.40 308.70,170.40" fill="#fff" stroke="#1a1a1a" stroke-width="0.85"/>
<polygon points="308.90,170.30 310.70,172.30 308.90,174.30 307.10,172.30" fill="#fff" stroke="#1a1a1a" stroke-width="0.85"/>
<polygon points="307.30,173.20 309.10,175.20 307.30,177.20 305.50,175.20" fill="#fff" stroke="#1a1a1a" stroke-width="0.85"/>
<polygon points="312.90,173.20 314.70,175.20 312.90,177.20 311.10,175.20" fill="#fff" stroke="#1a1a1a" stroke-width="0.85"/>
<polygon points="309.70,177.50 311.50,179.50 309.70,181.50 307.90,179.50" fill="#fff" stroke="#1a1a1a" stroke-width="0.85"/>
<polygon points="308.10,179.60 309.90,181.60 308.10,183.60 306.30,181.60" fill="#fff" stroke="#1a1a1a" stroke-width="0.85"/>
<polygon points="311.30,179.60 313.10,181.60 311.30,183.60 309.50,181.60" fill="#fff" stroke="#1a1a1a" stroke-width="0.85"/>
<polygon points="313.70,179.80 315.50,181.80 313.70,183.80 311.90,181.80" fill="#fff" stroke="#1a1a1a" stroke-width="0.85"/>
<polygon points="307.30,181.70 309.10,183.70 307.30,185.70 305.50,183.70" fill="#fff" stroke="#1a1a1a" stroke-width="0.85"/>
<polygon points="310.50,182.00 312.30,184.00 310.50,186.00 308.70,184.00" fill="#fff" stroke="#1a1a1a" stroke-width="0.85"/>
<polygon points="312.90,181.90 314.70,183.90 312.90,185.90 311.10,183.90" fill="#fff" stroke="#1a1a1a" stroke-width="0.85"/>
<polygon points="308.90,184.40 310.70,186.40 308.90,188.40 307.10,186.40" fill="#fff" stroke="#1a1a1a" stroke-width="0.85"/>
<polygon points="312.10,184.40 313.90,186.40 312.10,188.40 310.30,186.40" fill="#fff" stroke="#1a1a1a" stroke-width="0.85"/>
<polygon points="310.50,186.80 312.30,188.80 310.50,190.80 308.70,188.80" fill="#fff" stroke="#1a1a1a" stroke-width="0.85"/>
<polygon points="308.60,188.40 310.40,190.40 308.60,192.40 306.80,190.40" fill="#fff" stroke="#1a1a1a" stroke-width="0.85"/>
<polygon points="311.80,188.80 313.60,190.80 311.80,192.80 310.00,190.80" fill="#fff" stroke="#1a1a1a" stroke-width="0.85"/>
<polygon points="310.50,191.50 312.30,193.50 310.50,195.50 308.70,193.50" fill="#fff" stroke="#1a1a1a" stroke-width="0.85"/>
<line x1="304.90" y1="184.00" x2="316.90" y2="184.00" stroke="#000" stroke-width="1.0"/>
<polygon points="323.40,175.50 327.00,175.50 325.20,178.60" fill="#fff" stroke="#111" stroke-width="0.8"/>
<polygon points="326.10,174.70 329.70,174.70 327.90,177.80" fill="#fff" stroke="#111" stroke-width="0.8"/>
<polygon points="327.70,176.00 331.30,176.00 329.50,179.10" fill="#fff" stroke="#111" stroke-width="0.8"/>
<polygon points="325.00,177.90 328.60,177.90 326.80,181.00" fill="#fff" stroke="#111" stroke-width="0.8"/>
<polygon points="321.80,185.90 325.40,185.90 323.60,189.00" fill="#fff" stroke="#111" stroke-width="0.8"/>
<polygon points="324.20,185.10 327.80,185.10 326.00,188.20" fill="#fff" stroke="#111" stroke-width="0.8"/>
<polygon points="327.40,185.60 331.00,185.60 329.20,188.70" fill="#fff" stroke="#111" stroke-width="0.8"/>
<polygon points="329.80,186.70 333.40,186.70 331.60,189.80" fill="#fff" stroke="#111" stroke-width="0.8"/>
<polygon points="323.40,188.30 327.00,188.30 325.20,191.40" fill="#fff" stroke="#111" stroke-width="0.8"/>
<polygon points="326.10,188.80 329.70,188.80 327.90,191.90" fill="#fff" stroke="#111" stroke-width="0.8"/>
<polygon points="328.20,189.90 331.80,189.90 330.00,193.00" fill="#fff" stroke="#111" stroke-width="0.8"/>
<polygon points="325.00,190.70 328.60,190.70 326.80,193.80" fill="#fff" stroke="#111" stroke-width="0.8"/>
<polygon points="327.00,192.30 330.60,192.30 328.80,195.40" fill="#fff" stroke="#111" stroke-width="0.8"/>
<polygon points="328.60,192.60 332.20,192.60 330.40,195.70" fill="#fff" stroke="#111" stroke-width="0.8"/>
<line x1="322.20" y1="187.10" x2="333.40" y2="187.10" stroke="#222" stroke-width="0.8"/>
<polygon points="343.30,177.60 346.90,177.60 345.10,180.70" fill="#777" stroke="#111" stroke-width="0.75"/>
<polygon points="343.30,181.90 346.90,181.90 345.10,185.00" fill="#777" stroke="#111" stroke-width="0.75"/>
<polygon points="344.90,183.50 348.50,183.50 346.70,186.60" fill="#777" stroke="#111" stroke-width="0.75"/>
<polygon points="344.10,185.10 347.70,185.10 345.90,188.20" fill="#777" stroke="#111" stroke-width="0.75"/>
<polygon points="340.10,187.50 343.70,187.50 341.90,190.60" fill="#777" stroke="#111" stroke-width="0.75"/>
<polygon points="342.50,188.30 346.10,188.30 344.30,191.40" fill="#777" stroke="#111" stroke-width="0.75"/>
<polygon points="345.70,187.20 349.30,187.20 347.50,190.30" fill="#777" stroke="#111" stroke-width="0.75"/>
<polygon points="339.30,189.90 342.90,189.90 341.10,193.00" fill="#777" stroke="#111" stroke-width="0.75"/>
<polygon points="341.70,190.70 345.30,190.70 343.50,193.80" fill="#777" stroke="#111" stroke-width="0.75"/>
<polygon points="344.60,190.70 348.20,190.70 346.40,193.80" fill="#777" stroke="#111" stroke-width="0.75"/>
<polygon points="340.10,192.30 343.70,192.30 341.90,195.40" fill="#777" stroke="#111" stroke-width="0.75"/>
<polygon points="343.30,193.10 346.90,193.10 345.10,196.20" fill="#777" stroke="#111" stroke-width="0.75"/>
<polygon points="345.70,192.30 349.30,192.30 347.50,195.40" fill="#777" stroke="#111" stroke-width="0.75"/>
<polygon points="341.70,194.70 345.30,194.70 343.50,197.80" fill="#777" stroke="#111" stroke-width="0.75"/>
<line x1="338.80" y1="189.80" x2="350.40" y2="189.80" stroke="#222" stroke-width="0.8"/>
<polygon points="360.60,165.95 364.20,165.95 362.40,169.05" fill="#000" stroke="none" stroke-width="0"/>
<polygon points="360.60,172.75 364.20,172.75 362.40,175.85" fill="#000" stroke="none" stroke-width="0"/>
<polygon points="359.00,183.45 362.60,183.45 360.80,186.55" fill="#000" stroke="none" stroke-width="0"/>
<polygon points="361.40,182.95 365.00,182.95 363.20,186.05" fill="#000" stroke="none" stroke-width="0"/>
<polygon points="356.60,186.15 360.20,186.15 358.40,189.25" fill="#000" stroke="none" stroke-width="0"/>
<polygon points="359.80,185.85 363.40,185.85 361.60,188.95" fill="#000" stroke="none" stroke-width="0"/>
<polygon points="363.00,186.65 366.60,186.65 364.80,189.75" fill="#000" stroke="none" stroke-width="0"/>
<polygon points="358.20,188.25 361.80,188.25 360.00,191.35" fill="#000" stroke="none" stroke-width="0"/>
<polygon points="361.40,188.25 365.00,188.25 363.20,191.35" fill="#000" stroke="none" stroke-width="0"/>
<polygon points="360.60,192.55 364.20,192.55 362.40,195.65" fill="#000" stroke="none" stroke-width="0"/>
<line x1="356.20" y1="187.60" x2="367.40" y2="187.60" stroke="#222" stroke-width="0.8"/>
<polygon points="377.60,179.15 381.20,179.15 379.40,176.05" fill="#000" stroke="none" stroke-width="0"/>
<polygon points="377.60,185.15 381.20,185.15 379.40,182.05" fill="#000" stroke="none" stroke-width="0"/>
<polygon points="376.50,189.65 380.10,189.65 378.30,186.55" fill="#000" stroke="none" stroke-width="0"/>
<polygon points="378.10,188.65 381.70,188.65 379.90,185.55" fill="#000" stroke="none" stroke-width="0"/>
<polygon points="374.10,191.55 377.70,191.55 375.90,188.45" fill="#000" stroke="none" stroke-width="0"/>
<polygon points="376.50,192.35 380.10,192.35 378.30,189.25" fill="#000" stroke="none" stroke-width="0"/>
<polygon points="379.70,191.55 383.30,191.55 381.50,188.45" fill="#000" stroke="none" stroke-width="0"/>
<polygon points="375.70,194.75 379.30,194.75 377.50,191.65" fill="#000" stroke="none" stroke-width="0"/>
<polygon points="378.10,195.55 381.70,195.55 379.90,192.45" fill="#000" stroke="none" stroke-width="0"/>
<polygon points="379.70,193.95 383.30,193.95 381.50,190.85" fill="#000" stroke="none" stroke-width="0"/>
<polygon points="377.20,191.75 380.80,191.75 379.00,188.65" fill="#000" stroke="none" stroke-width="0"/>
<line x1="374.00" y1="190.60" x2="383.20" y2="190.60" stroke="#222" stroke-width="0.8"/>
<circle cx="425.00" cy="172.90" r="1.33" fill="#bdbdbd" stroke="#222" stroke-width="0.95"/>
<circle cx="421.00" cy="179.90" r="1.33" fill="#bdbdbd" stroke="#222" stroke-width="0.95"/>
<circle cx="426.00" cy="179.90" r="1.33" fill="#bdbdbd" stroke="#222" stroke-width="0.95"/>
<circle cx="428.00" cy="180.90" r="1.33" fill="#bdbdbd" stroke="#222" stroke-width="0.95"/>
<circle cx="425.00" cy="182.90" r="1.33" fill="#bdbdbd" stroke="#222" stroke-width="0.95"/>
<circle cx="423.00" cy="187.90" r="1.33" fill="#bdbdbd" stroke="#222" stroke-width="0.95"/>
<circle cx="426.00" cy="188.90" r="1.33" fill="#bdbdbd" stroke="#222" stroke-width="0.95"/>
<circle cx="424.00" cy="191.90" r="1.33" fill="#bdbdbd" stroke="#222" stroke-width="0.95"/>
<circle cx="426.00" cy="193.80" r="1.33" fill="#bdbdbd" stroke="#222" stroke-width="0.95"/>
<circle cx="423.00" cy="196.80" r="1.33" fill="#bdbdbd" stroke="#222" stroke-width="0.95"/>
<circle cx="426.00" cy="197.20" r="1.33" fill="#bdbdbd" stroke="#222" stroke-width="0.95"/>
<circle cx="424.00" cy="199.80" r="1.33" fill="#bdbdbd" stroke="#222" stroke-width="0.95"/>
<circle cx="427.00" cy="199.80" r="1.33" fill="#bdbdbd" stroke="#222" stroke-width="0.95"/>
<circle cx="422.00" cy="191.00" r="1.33" fill="#bdbdbd" stroke="#222" stroke-width="0.95"/>
<line x1="419.80" y1="189.30" x2="431.00" y2="189.30" stroke="#222" stroke-width="0.9"/>
<polygon points="444.50,160.00 446.30,162.00 444.50,164.00 442.70,162.00" fill="#fff" stroke="#1a1a1a" stroke-width="0.85"/>
<polygon points="440.50,162.60 442.30,164.60 440.50,166.60 438.70,164.60" fill="#fff" stroke="#1a1a1a" stroke-width="0.85"/>
<polygon points="442.90,164.00 444.70,166.00 442.90,168.00 441.10,166.00" fill="#fff" stroke="#1a1a1a" stroke-width="0.85"/>
<polygon points="445.90,164.00 447.70,166.00 445.90,168.00 444.10,166.00" fill="#fff" stroke="#1a1a1a" stroke-width="0.85"/>
<polygon points="437.30,168.90 439.10,170.90 437.30,172.90 435.50,170.90" fill="#fff" stroke="#1a1a1a" stroke-width="0.85"/>
<polygon points="442.50,169.90 444.30,171.90 442.50,173.90 440.70,171.90" fill="#fff" stroke="#1a1a1a" stroke-width="0.85"/>
<polygon points="444.90,171.90 446.70,173.90 444.90,175.90 443.10,173.90" fill="#fff" stroke="#1a1a1a" stroke-width="0.85"/>
<polygon points="443.90,173.90 445.70,175.90 443.90,177.90 442.10,175.90" fill="#fff" stroke="#1a1a1a" stroke-width="0.85"/>
<polygon points="437.30,179.90 439.10,181.90 437.30,183.90 435.50,181.90" fill="#fff" stroke="#1a1a1a" stroke-width="0.85"/>
<polygon points="444.50,179.90 446.30,181.90 444.50,183.90 442.70,181.90" fill="#fff" stroke="#1a1a1a" stroke-width="0.85"/>
<polygon points="441.90,183.90 443.70,185.90 441.90,187.90 440.10,185.90" fill="#fff" stroke="#1a1a1a" stroke-width="0.85"/>
<polygon points="439.90,187.60 441.70,189.60 439.90,191.60 438.10,189.60" fill="#fff" stroke="#1a1a1a" stroke-width="0.85"/>
<polygon points="442.50,187.90 444.30,189.90 442.50,191.90 440.70,189.90" fill="#fff" stroke="#1a1a1a" stroke-width="0.85"/>
<polygon points="444.50,188.40 446.30,190.40 444.50,192.40 442.70,190.40" fill="#fff" stroke="#1a1a1a" stroke-width="0.85"/>
<polygon points="441.50,189.00 443.30,191.00 441.50,193.00 439.70,191.00" fill="#fff" stroke="#1a1a1a" stroke-width="0.85"/>
<line x1="435.90" y1="181.90" x2="447.90" y2="181.90" stroke="#111" stroke-width="0.9"/>
<polygon points="456.80,165.60 460.40,165.60 458.60,168.70" fill="#fff" stroke="#111" stroke-width="0.8"/>
<polygon points="457.50,174.00 461.10,174.00 459.30,177.10" fill="#fff" stroke="#111" stroke-width="0.8"/>
<polygon points="455.00,178.90 458.60,178.90 456.80,182.00" fill="#fff" stroke="#111" stroke-width="0.8"/>
<polygon points="459.00,178.50 462.60,178.50 460.80,181.60" fill="#fff" stroke="#111" stroke-width="0.8"/>
<polygon points="456.80,181.20 460.40,181.20 458.60,184.30" fill="#fff" stroke="#111" stroke-width="0.8"/>
<polygon points="452.10,191.10 455.70,191.10 453.90,194.20" fill="#fff" stroke="#111" stroke-width="0.8"/>
<polygon points="455.40,196.40 459.00,196.40 457.20,199.50" fill="#fff" stroke="#111" stroke-width="0.8"/>
<polygon points="458.10,195.50 461.70,195.50 459.90,198.60" fill="#fff" stroke="#111" stroke-width="0.8"/>
<polygon points="456.30,198.60 459.90,198.60 458.10,201.70" fill="#fff" stroke="#111" stroke-width="0.8"/>
<polygon points="459.00,199.10 462.60,199.10 460.80,202.20" fill="#fff" stroke="#111" stroke-width="0.8"/>
<polygon points="457.20,200.90 460.80,200.90 459.00,204.00" fill="#fff" stroke="#111" stroke-width="0.8"/>
<line x1="454.40" y1="192.60" x2="464.40" y2="192.60" stroke="#888" stroke-width="1.0"/>
<polygon points="474.70,169.90 478.30,169.90 476.50,173.00" fill="#777" stroke="#111" stroke-width="0.75"/>
<polygon points="471.50,187.10 475.10,187.10 473.30,190.20" fill="#777" stroke="#111" stroke-width="0.75"/>
<polygon points="475.10,186.00 478.70,186.00 476.90,189.10" fill="#777" stroke="#111" stroke-width="0.75"/>
<polygon points="477.80,187.50 481.40,187.50 479.60,190.60" fill="#777" stroke="#111" stroke-width="0.75"/>
<polygon points="469.70,190.20 473.30,190.20 471.50,193.30" fill="#777" stroke="#111" stroke-width="0.75"/>
<polygon points="473.30,189.30 476.90,189.30 475.10,192.40" fill="#777" stroke="#111" stroke-width="0.75"/>
<polygon points="476.90,190.20 480.50,190.20 478.70,193.30" fill="#777" stroke="#111" stroke-width="0.75"/>
<polygon points="472.40,192.80 476.00,192.80 474.20,195.90" fill="#777" stroke="#111" stroke-width="0.75"/>
<polygon points="476.00,192.80 479.60,192.80 477.80,195.90" fill="#777" stroke="#111" stroke-width="0.75"/>
<polygon points="473.30,196.40 476.90,196.40 475.10,199.50" fill="#777" stroke="#111" stroke-width="0.75"/>
<polygon points="476.90,196.80 480.50,196.80 478.70,199.90" fill="#777" stroke="#111" stroke-width="0.75"/>
<polygon points="475.10,199.10 478.70,199.10 476.90,202.20" fill="#777" stroke="#111" stroke-width="0.75"/>
<line x1="469.90" y1="191.40" x2="481.90" y2="191.40" stroke="#222" stroke-width="0.8"/>
<polygon points="489.90,180.65 493.50,180.65 491.70,183.75" fill="#000" stroke="none" stroke-width="0"/>
<polygon points="492.70,181.75 496.30,181.75 494.50,184.85" fill="#000" stroke="none" stroke-width="0"/>
<polygon points="488.30,183.95 491.90,183.95 490.10,187.05" fill="#000" stroke="none" stroke-width="0"/>
<polygon points="492.10,184.65 495.70,184.65 493.90,187.75" fill="#000" stroke="none" stroke-width="0"/>
<polygon points="487.00,187.25 490.60,187.25 488.80,190.35" fill="#000" stroke="none" stroke-width="0"/>
<polygon points="491.00,188.35 494.60,188.35 492.80,191.45" fill="#000" stroke="none" stroke-width="0"/>
<polygon points="492.70,191.65 496.30,191.65 494.50,194.75" fill="#000" stroke="none" stroke-width="0"/>
<polygon points="487.70,193.85 491.30,193.85 489.50,196.95" fill="#000" stroke="none" stroke-width="0"/>
<polygon points="491.40,194.95 495.00,194.95 493.20,198.05" fill="#000" stroke="none" stroke-width="0"/>
<polygon points="487.70,198.25 491.30,198.25 489.50,201.35" fill="#000" stroke="none" stroke-width="0"/>
<polygon points="491.40,199.35 495.00,199.35 493.20,202.45" fill="#000" stroke="none" stroke-width="0"/>
<polygon points="489.90,208.05 493.50,208.05 491.70,211.15" fill="#000" stroke="none" stroke-width="0"/>
<polygon points="492.10,209.65 495.70,209.65 493.90,212.75" fill="#000" stroke="none" stroke-width="0"/>
<polygon points="491.00,211.35 494.60,211.35 492.80,214.45" fill="#000" stroke="none" stroke-width="0"/>
<line x1="487.40" y1="192.50" x2="499.40" y2="192.50" stroke="#888" stroke-width="1.0"/>
<polygon points="509.00,169.55 512.60,169.55 510.80,166.45" fill="#000" stroke="none" stroke-width="0"/>
<polygon points="507.40,187.55 511.00,187.55 509.20,184.45" fill="#000" stroke="none" stroke-width="0"/>
<polygon points="509.60,188.65 513.20,188.65 511.40,185.55" fill="#000" stroke="none" stroke-width="0"/>
<polygon points="505.20,189.75 508.80,189.75 507.00,186.65" fill="#000" stroke="none" stroke-width="0"/>
<polygon points="508.50,190.85 512.10,190.85 510.30,187.75" fill="#000" stroke="none" stroke-width="0"/>
<polygon points="510.70,191.95 514.30,191.95 512.50,188.85" fill="#000" stroke="none" stroke-width="0"/>
<polygon points="505.90,193.75 509.50,193.75 507.70,190.65" fill="#000" stroke="none" stroke-width="0"/>
<polygon points="509.00,194.15 512.60,194.15 510.80,191.05" fill="#000" stroke="none" stroke-width="0"/>
<polygon points="510.30,195.25 513.90,195.25 512.10,192.15" fill="#000" stroke="none" stroke-width="0"/>
<polygon points="508.10,200.25 511.70,200.25 509.90,197.15" fill="#000" stroke="none" stroke-width="0"/>
<polygon points="510.30,201.15 513.90,201.15 512.10,198.05" fill="#000" stroke="none" stroke-width="0"/>
<polygon points="506.80,202.45 510.40,202.45 508.60,199.35" fill="#000" stroke="none" stroke-width="0"/>
<polygon points="509.60,202.95 513.20,202.95 511.40,199.85" fill="#000" stroke="none" stroke-width="0"/>
<line x1="505.40" y1="192.60" x2="515.00" y2="192.60" stroke="#222" stroke-width="0.8"/>
</svg>
</body></html>
